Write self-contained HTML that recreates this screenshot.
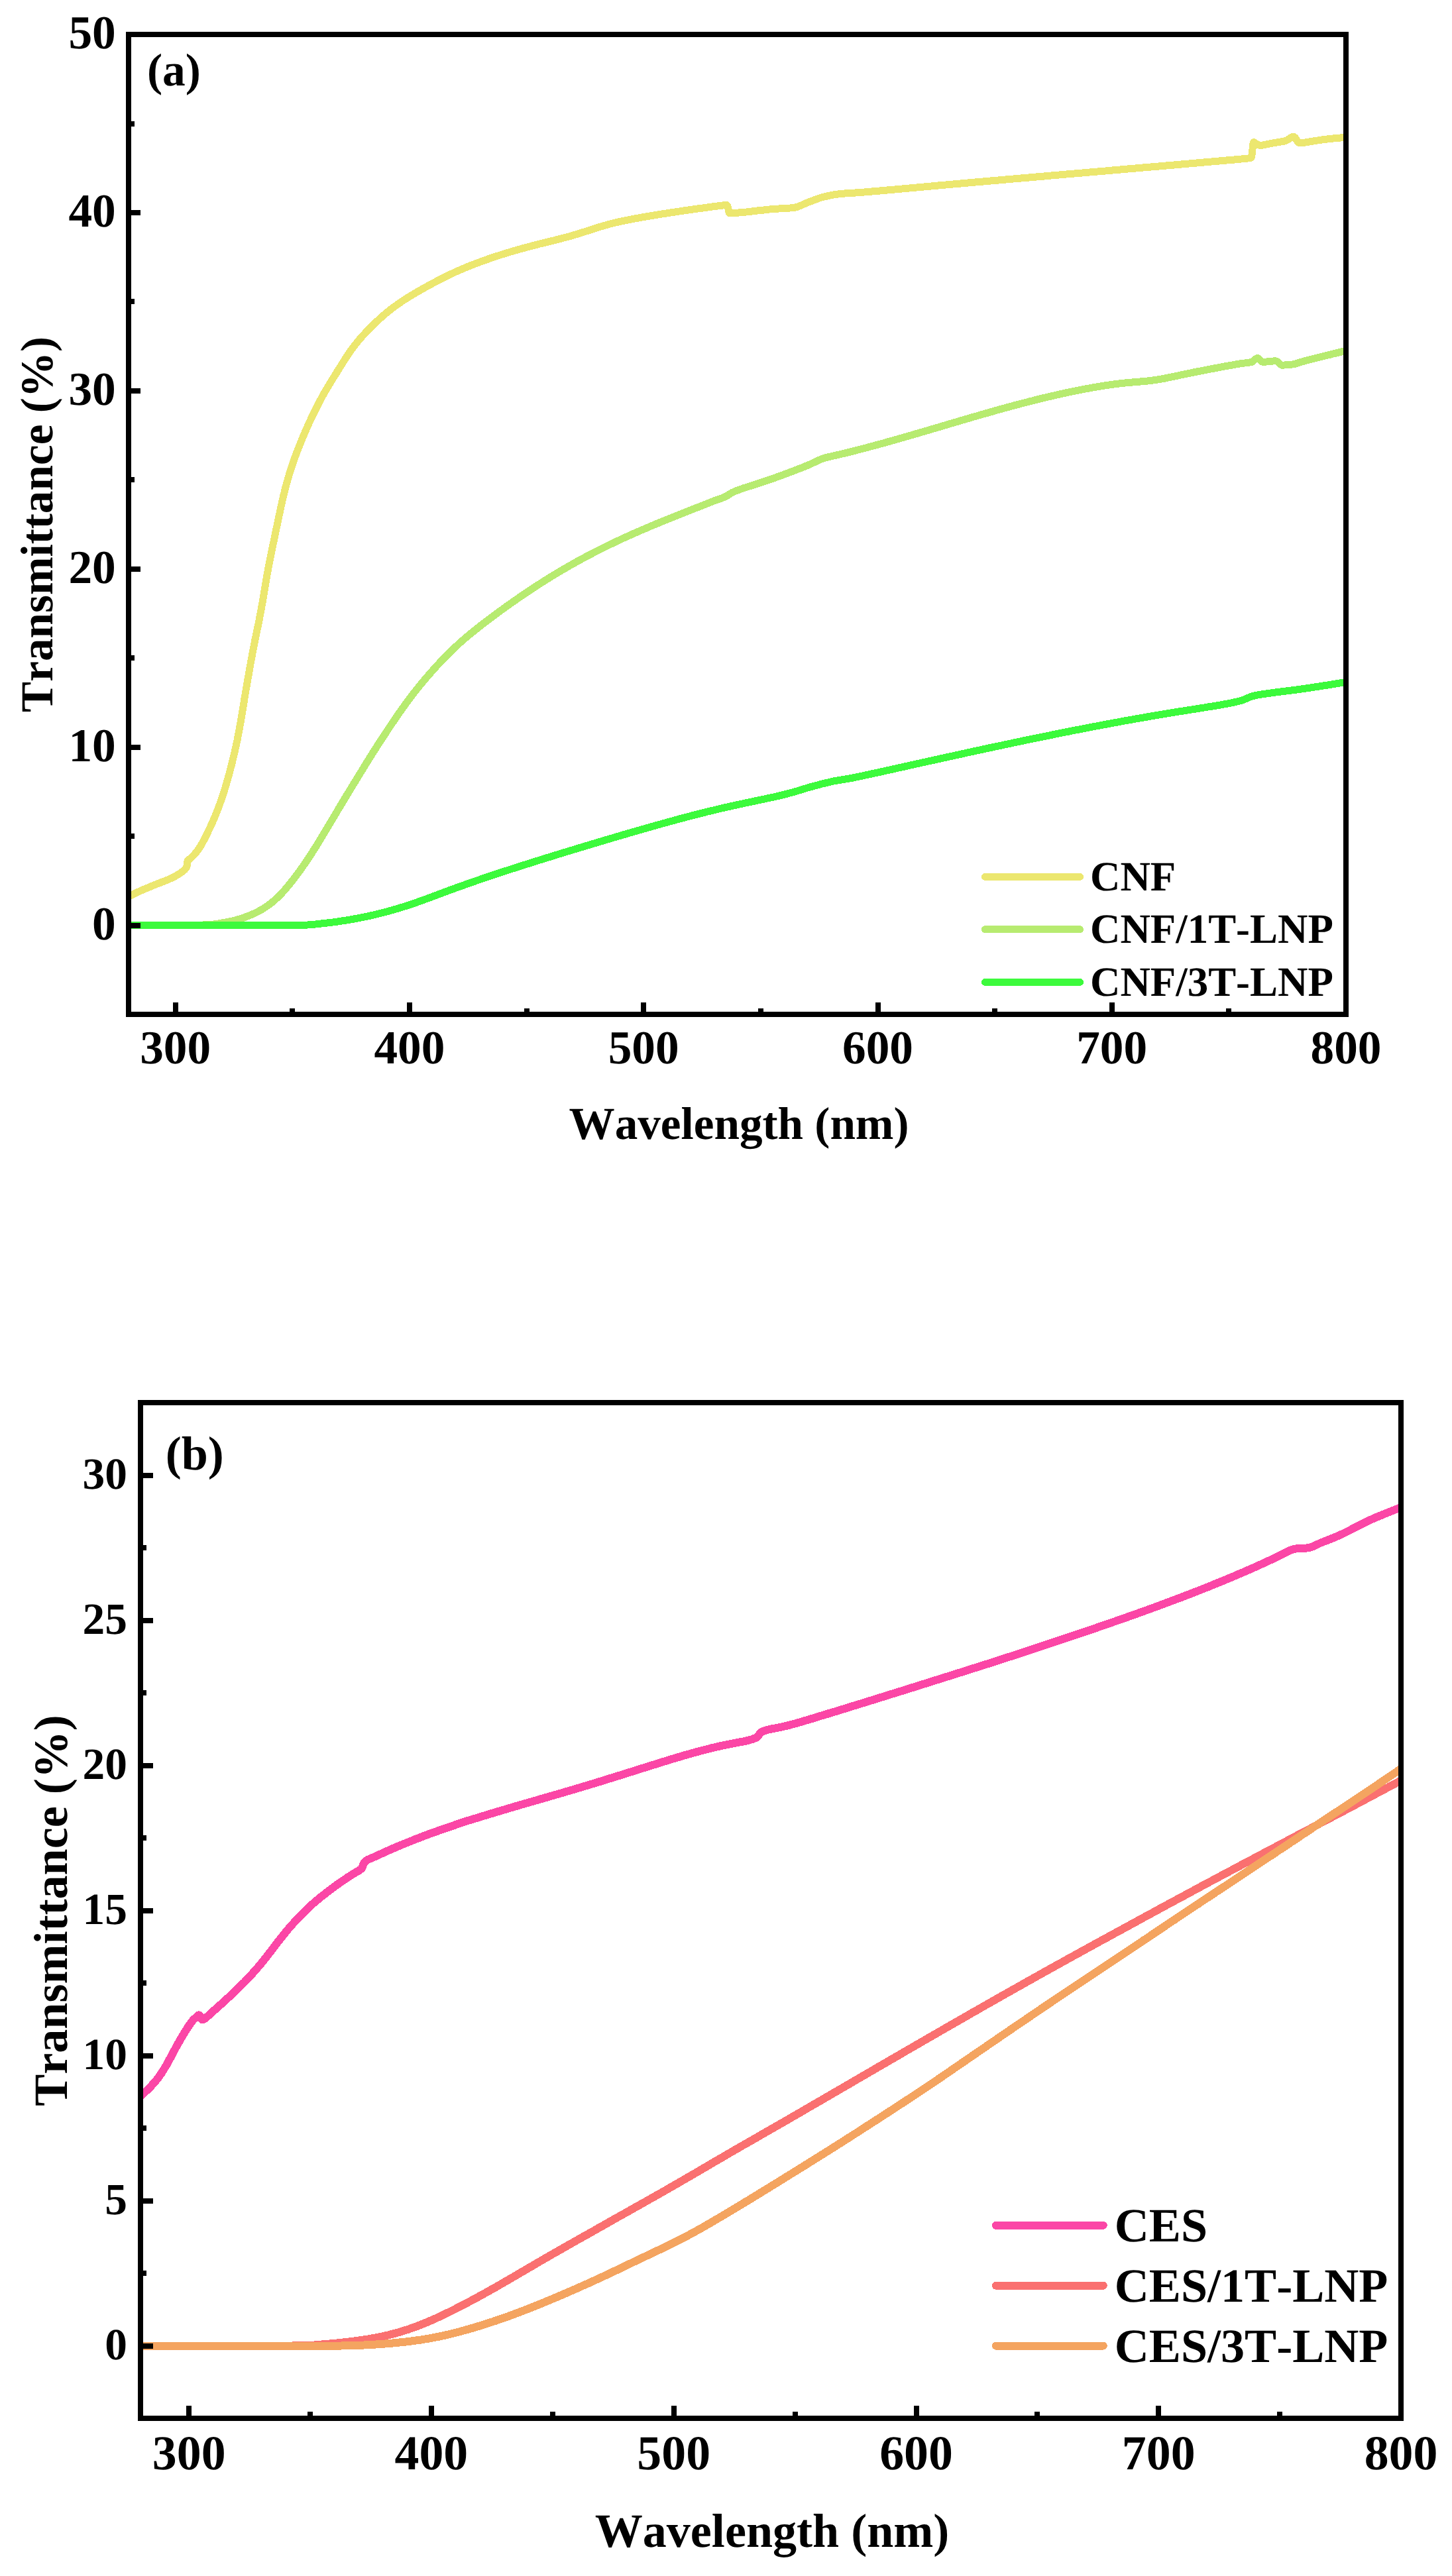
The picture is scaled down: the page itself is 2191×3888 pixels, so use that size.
<!DOCTYPE html>
<html lang="en"><head><meta charset="utf-8"><title>Transmittance spectra</title>
<style>
html,body{margin:0;padding:0;background:#fff}
body{width:2191px;height:3888px;overflow:hidden}
svg{display:block}
text{font-family:"Liberation Serif", serif;font-weight:bold;fill:#000;font-kerning:none;text-rendering:geometricPrecision}
</style></head><body>
<svg width="2191" height="3888" viewBox="0 0 2191 3888">
<rect width="2191" height="3888" fill="#fff"/>
<clipPath id="clipa"><rect x="194" y="52" width="1837" height="1479"/></clipPath>
<g clip-path="url(#clipa)" fill="none" stroke-width="11" stroke-linejoin="round" stroke-linecap="butt" shape-rendering="crispEdges">
<path d="M193.7,1353.1 L195.6,1352.3 L197.5,1351.4 L199.4,1350.5 L201.4,1349.6 L203.3,1348.6 L205.2,1347.7 L207.1,1346.8 L209.0,1345.9 L210.9,1345.0 L212.7,1344.2 L214.5,1343.4 L216.3,1342.6 L218.1,1341.9 L219.8,1341.1 L221.6,1340.5 L223.3,1339.8 L225.0,1339.1 L226.7,1338.4 L228.3,1337.7 L230.0,1337.0 L231.7,1336.3 L233.4,1335.6 L235.1,1334.9 L236.9,1334.2 L238.7,1333.5 L240.5,1332.8 L242.3,1332.1 L244.2,1331.3 L246.1,1330.6 L248.1,1329.9 L250.0,1329.1 L252.0,1328.3 L254.0,1327.5 L256.0,1326.6 L257.9,1325.8 L259.8,1324.9 L261.7,1323.9 L263.4,1323.0 L265.2,1322.0 L267.0,1321.0 L268.7,1320.0 L270.4,1318.9 L272.0,1317.8 L273.6,1316.7 L275.3,1315.5 L276.9,1314.2 L278.4,1312.9 L279.7,1311.4 L280.8,1309.8 L281.8,1308.0 L282.4,1306.1 L282.6,1304.0 L282.7,1301.9 L282.9,1300.1 L283.6,1298.5 L285.1,1297.2 L286.9,1295.9 L288.6,1294.6 L290.0,1293.1 L291.4,1291.7 L292.8,1290.2 L294.1,1288.7 L295.5,1287.0 L296.8,1285.4 L298.2,1283.7 L299.4,1281.9 L300.6,1280.2 L301.8,1278.4 L302.9,1276.7 L303.9,1274.9 L304.9,1273.1 L305.9,1271.4 L306.8,1269.6 L307.7,1267.9 L308.6,1266.2 L309.5,1264.4 L310.3,1262.7 L311.2,1261.0 L312.0,1259.3 L312.9,1257.6 L313.7,1255.8 L314.5,1254.1 L315.4,1252.4 L316.2,1250.6 L317.0,1248.8 L317.9,1247.1 L318.7,1245.3 L319.5,1243.5 L320.3,1241.7 L321.1,1239.9 L321.9,1238.1 L322.7,1236.3 L323.5,1234.4 L324.2,1232.6 L325.0,1230.8 L325.8,1228.9 L326.5,1227.1 L327.2,1225.2 L328.0,1223.3 L328.7,1221.5 L329.4,1219.6 L330.1,1217.7 L330.8,1215.9 L331.5,1214.0 L332.1,1212.1 L332.8,1210.2 L333.5,1208.3 L334.1,1206.5 L334.8,1204.6 L335.4,1202.7 L336.0,1200.8 L336.7,1198.9 L337.3,1197.0 L337.9,1195.1 L338.5,1193.2 L339.1,1191.3 L339.7,1189.4 L340.3,1187.4 L340.8,1185.5 L341.4,1183.6 L342.0,1181.7 L342.5,1179.8 L343.1,1177.9 L343.6,1175.9 L344.2,1174.0 L344.7,1172.1 L345.2,1170.1 L345.8,1168.2 L346.3,1166.3 L346.8,1164.4 L347.3,1162.4 L347.8,1160.5 L348.3,1158.6 L348.8,1156.6 L349.3,1154.7 L349.8,1152.7 L350.3,1150.8 L350.8,1148.9 L351.2,1146.9 L351.7,1145.0 L352.2,1143.0 L352.6,1141.1 L353.1,1139.1 L353.6,1137.2 L354.0,1135.2 L354.5,1133.3 L354.9,1131.3 L355.3,1129.4 L355.8,1127.4 L356.2,1125.5 L356.6,1123.5 L357.0,1121.6 L357.4,1119.6 L357.9,1117.7 L358.3,1115.7 L358.6,1113.7 L359.0,1111.8 L359.4,1109.8 L359.8,1107.9 L360.2,1105.9 L360.6,1103.9 L360.9,1102.0 L361.3,1100.0 L361.6,1098.0 L362.0,1096.1 L362.3,1094.1 L362.7,1092.1 L363.0,1090.2 L363.4,1088.2 L363.7,1086.2 L364.0,1084.2 L364.4,1082.3 L364.7,1080.3 L365.0,1078.3 L365.4,1076.4 L365.7,1074.4 L366.0,1072.4 L366.3,1070.4 L366.6,1068.5 L367.0,1066.5 L367.3,1064.5 L367.6,1062.5 L367.9,1060.6 L368.3,1058.6 L368.6,1056.6 L368.9,1054.6 L369.2,1052.7 L369.6,1050.7 L369.9,1048.7 L370.2,1046.8 L370.6,1044.8 L370.9,1042.8 L371.2,1040.8 L371.6,1038.9 L371.9,1036.9 L372.2,1034.9 L372.6,1032.9 L372.9,1031.0 L373.3,1029.0 L373.6,1027.0 L373.9,1025.1 L374.3,1023.1 L374.6,1021.1 L375.0,1019.2 L375.3,1017.2 L375.7,1015.2 L376.0,1013.2 L376.4,1011.3 L376.7,1009.3 L377.1,1007.3 L377.4,1005.4 L377.8,1003.4 L378.1,1001.4 L378.5,999.5 L378.8,997.5 L379.2,995.5 L379.6,993.6 L379.9,991.6 L380.3,989.6 L380.7,987.7 L381.0,985.7 L381.4,983.7 L381.8,981.8 L382.1,979.8 L382.5,977.8 L382.9,975.9 L383.3,973.9 L383.7,972.0 L384.1,970.0 L384.4,968.0 L384.8,966.1 L385.2,964.1 L385.6,962.1 L386.0,960.2 L386.4,958.2 L386.8,956.3 L387.2,954.3 L387.6,952.4 L388.0,950.4 L388.5,948.4 L388.9,946.5 L389.3,944.5 L389.7,942.6 L390.1,940.6 L390.5,938.6 L390.9,936.7 L391.3,934.7 L391.6,932.8 L392.0,930.8 L392.4,928.8 L392.8,926.9 L393.2,924.9 L393.5,923.0 L393.9,921.0 L394.3,919.0 L394.6,917.1 L395.0,915.1 L395.3,913.1 L395.7,911.2 L396.0,909.2 L396.4,907.2 L396.7,905.2 L397.0,903.3 L397.4,901.3 L397.7,899.3 L398.0,897.4 L398.4,895.4 L398.7,893.4 L399.0,891.4 L399.3,889.5 L399.7,887.5 L400.0,885.5 L400.3,883.6 L400.7,881.6 L401.0,879.6 L401.3,877.6 L401.7,875.7 L402.0,873.7 L402.3,871.7 L402.7,869.8 L403.0,867.8 L403.4,865.8 L403.7,863.9 L404.1,861.9 L404.5,859.9 L404.8,858.0 L405.2,856.0 L405.6,854.0 L405.9,852.1 L406.3,850.1 L406.7,848.1 L407.1,846.2 L407.5,844.2 L407.9,842.2 L408.3,840.3 L408.6,838.3 L409.0,836.4 L409.4,834.4 L409.8,832.4 L410.2,830.5 L410.6,828.5 L411.0,826.6 L411.4,824.6 L411.8,822.6 L412.2,820.7 L412.7,818.7 L413.1,816.8 L413.5,814.8 L413.9,812.9 L414.3,810.9 L414.7,808.9 L415.1,807.0 L415.5,805.0 L415.9,803.1 L416.3,801.1 L416.7,799.1 L417.1,797.2 L417.6,795.2 L418.0,793.3 L418.4,791.3 L418.8,789.4 L419.2,787.4 L419.6,785.4 L420.0,783.5 L420.4,781.5 L420.8,779.6 L421.3,777.6 L421.7,775.7 L422.1,773.7 L422.5,771.7 L422.9,769.8 L423.4,767.8 L423.8,765.9 L424.2,763.9 L424.6,762.0 L425.1,760.0 L425.5,758.1 L425.9,756.1 L426.4,754.2 L426.8,752.2 L427.3,750.3 L427.7,748.3 L428.2,746.4 L428.7,744.4 L429.2,742.5 L429.6,740.6 L430.1,738.6 L430.6,736.7 L431.1,734.8 L431.6,732.8 L432.2,730.9 L432.7,729.0 L433.2,727.1 L433.8,725.1 L434.3,723.2 L434.9,721.3 L435.4,719.4 L436.0,717.5 L436.6,715.6 L437.2,713.6 L437.8,711.7 L438.4,709.8 L439.0,707.9 L439.6,706.0 L440.2,704.1 L440.9,702.2 L441.5,700.3 L442.2,698.5 L442.8,696.6 L443.5,694.7 L444.2,692.8 L444.8,690.9 L445.5,689.0 L446.2,687.2 L446.9,685.3 L447.6,683.4 L448.3,681.5 L449.0,679.7 L449.7,677.8 L450.5,675.9 L451.2,674.1 L451.9,672.2 L452.7,670.4 L453.4,668.5 L454.2,666.7 L454.9,664.8 L455.7,663.0 L456.5,661.1 L457.2,659.3 L458.0,657.4 L458.8,655.6 L459.6,653.8 L460.4,651.9 L461.2,650.1 L462.0,648.3 L462.8,646.4 L463.6,644.6 L464.4,642.8 L465.2,641.0 L466.1,639.1 L466.9,637.3 L467.8,635.5 L468.6,633.7 L469.4,631.9 L470.3,630.1 L471.2,628.3 L472.0,626.5 L472.9,624.7 L473.8,622.9 L474.7,621.1 L475.5,619.3 L476.4,617.5 L477.3,615.7 L478.2,613.9 L479.1,612.1 L480.1,610.4 L481.0,608.6 L481.9,606.8 L482.8,605.0 L483.8,603.3 L484.7,601.5 L485.7,599.8 L486.6,598.0 L487.6,596.3 L488.6,594.5 L489.5,592.8 L490.5,591.1 L491.5,589.3 L492.5,587.6 L493.5,585.9 L494.5,584.2 L495.6,582.5 L496.6,580.8 L497.6,579.1 L498.6,577.4 L499.7,575.7 L500.7,574.0 L501.8,572.3 L502.8,570.6 L503.9,568.9 L504.9,567.3 L506.0,565.6 L507.0,563.9 L508.1,562.2 L509.1,560.5 L510.2,558.9 L511.2,557.2 L512.3,555.5 L513.3,553.8 L514.4,552.2 L515.4,550.5 L516.5,548.8 L517.5,547.1 L518.6,545.4 L519.6,543.8 L520.7,542.1 L521.8,540.4 L522.9,538.8 L523.9,537.1 L525.0,535.5 L526.2,533.8 L527.3,532.2 L528.4,530.6 L529.5,528.9 L530.7,527.3 L531.9,525.7 L533.1,524.1 L534.2,522.5 L535.5,521.0 L536.7,519.4 L537.9,517.8 L539.2,516.3 L540.4,514.8 L541.7,513.2 L543.0,511.7 L544.3,510.2 L545.6,508.7 L546.9,507.2 L548.3,505.7 L549.6,504.3 L551.0,502.8 L552.3,501.3 L553.7,499.9 L555.1,498.4 L556.5,497.0 L557.9,495.6 L559.3,494.2 L560.7,492.8 L562.1,491.4 L563.5,490.0 L565.0,488.6 L566.4,487.2 L567.8,485.8 L569.3,484.5 L570.8,483.1 L572.2,481.7 L573.7,480.4 L575.2,479.1 L576.7,477.8 L578.2,476.4 L579.7,475.1 L581.2,473.9 L582.8,472.6 L584.3,471.3 L585.8,470.0 L587.4,468.8 L589.0,467.6 L590.5,466.3 L592.1,465.1 L593.7,463.9 L595.3,462.7 L596.9,461.6 L598.5,460.4 L600.1,459.2 L601.8,458.1 L603.4,457.0 L605.1,455.8 L606.7,454.7 L608.4,453.6 L610.1,452.5 L611.7,451.4 L613.4,450.4 L615.1,449.3 L616.8,448.3 L618.5,447.2 L620.2,446.2 L621.9,445.1 L623.6,444.1 L625.3,443.1 L627.1,442.1 L628.8,441.1 L630.5,440.1 L632.2,439.1 L634.0,438.1 L635.7,437.1 L637.4,436.1 L639.2,435.1 L640.9,434.1 L642.7,433.2 L644.4,432.2 L646.2,431.2 L647.9,430.3 L649.7,429.3 L651.5,428.4 L653.2,427.4 L655.0,426.5 L656.7,425.6 L658.5,424.6 L660.3,423.7 L662.1,422.8 L663.8,421.9 L665.6,421.0 L667.4,420.0 L669.2,419.1 L671.0,418.2 L672.7,417.4 L674.5,416.5 L676.3,415.6 L678.1,414.7 L679.9,413.9 L681.7,413.0 L683.5,412.2 L685.4,411.3 L687.2,410.5 L689.0,409.7 L690.8,408.9 L692.6,408.1 L694.5,407.3 L696.3,406.5 L698.1,405.7 L700.0,404.9 L701.8,404.1 L703.7,403.4 L705.5,402.6 L707.4,401.9 L709.2,401.1 L711.1,400.4 L712.9,399.7 L714.8,399.0 L716.7,398.2 L718.5,397.5 L720.4,396.8 L722.3,396.1 L724.2,395.4 L726.0,394.8 L727.9,394.1 L729.8,393.4 L731.7,392.7 L733.6,392.1 L735.5,391.4 L737.3,390.7 L739.2,390.1 L741.1,389.4 L743.0,388.8 L744.9,388.2 L746.8,387.5 L748.7,386.9 L750.6,386.3 L752.5,385.7 L754.4,385.0 L756.3,384.4 L758.2,383.8 L760.1,383.2 L762.0,382.6 L763.9,382.1 L765.9,381.5 L767.8,380.9 L769.7,380.3 L771.6,379.7 L773.5,379.2 L775.4,378.6 L777.4,378.1 L779.3,377.5 L781.2,377.0 L783.1,376.4 L785.0,375.9 L787.0,375.3 L788.9,374.8 L790.8,374.3 L792.8,373.8 L794.7,373.2 L796.6,372.7 L798.5,372.2 L800.5,371.7 L802.4,371.2 L804.3,370.7 L806.3,370.2 L808.2,369.7 L810.2,369.2 L812.1,368.7 L814.0,368.2 L816.0,367.8 L817.9,367.3 L819.8,366.8 L821.8,366.3 L823.7,365.8 L825.7,365.4 L827.6,364.9 L829.5,364.4 L831.5,363.9 L833.4,363.5 L835.4,363.0 L837.3,362.5 L839.2,362.0 L841.2,361.5 L843.1,361.0 L845.0,360.5 L847.0,360.0 L848.9,359.5 L850.8,359.0 L852.8,358.5 L854.7,358.0 L856.6,357.4 L858.6,356.9 L860.5,356.4 L862.4,355.8 L864.3,355.3 L866.2,354.7 L868.1,354.1 L870.1,353.6 L872.0,353.0 L873.9,352.4 L875.8,351.8 L877.7,351.2 L879.6,350.6 L881.5,350.0 L883.4,349.4 L885.3,348.8 L887.2,348.2 L889.1,347.6 L891.0,347.0 L892.9,346.4 L894.8,345.7 L896.7,345.1 L898.6,344.5 L900.5,343.9 L902.4,343.3 L904.3,342.7 L906.2,342.1 L908.1,341.6 L910.0,341.0 L911.9,340.4 L913.9,339.9 L915.8,339.4 L917.7,338.8 L919.6,338.3 L921.5,337.8 L923.5,337.3 L925.4,336.8 L927.3,336.3 L929.3,335.9 L931.2,335.4 L933.2,335.0 L935.1,334.5 L937.1,334.1 L939.0,333.7 L941.0,333.3 L942.9,332.9 L944.9,332.5 L946.8,332.1 L948.8,331.7 L950.8,331.3 L952.7,330.9 L954.7,330.6 L956.6,330.2 L958.6,329.8 L960.6,329.5 L962.5,329.1 L964.5,328.8 L966.5,328.4 L968.5,328.1 L970.4,327.7 L972.4,327.4 L974.4,327.0 L976.3,326.7 L978.3,326.4 L980.3,326.0 L982.2,325.7 L984.2,325.4 L986.2,325.1 L988.2,324.7 L990.1,324.4 L992.1,324.1 L994.1,323.8 L996.1,323.4 L998.0,323.1 L1000.0,322.8 L1002.0,322.5 L1004.0,322.2 L1005.9,321.9 L1007.9,321.6 L1009.9,321.3 L1011.9,321.0 L1013.8,320.7 L1015.8,320.4 L1017.8,320.1 L1019.8,319.8 L1021.7,319.5 L1023.7,319.2 L1025.7,318.9 L1027.6,318.6 L1029.6,318.3 L1031.5,318.0 L1033.5,317.8 L1035.4,317.5 L1037.4,317.2 L1039.3,316.9 L1041.2,316.7 L1043.1,316.4 L1045.0,316.1 L1046.9,315.8 L1048.8,315.6 L1050.7,315.3 L1052.6,315.0 L1054.6,314.8 L1056.5,314.5 L1058.4,314.2 L1060.4,314.0 L1062.4,313.7 L1064.4,313.4 L1066.4,313.1 L1068.5,312.9 L1070.5,312.6 L1072.7,312.3 L1074.8,312.0 L1076.9,311.7 L1079.1,311.5 L1081.2,311.2 L1083.5,310.9 L1085.8,310.6 L1088.1,310.3 L1090.3,310.0 L1092.4,309.8 L1094.2,309.6 L1095.7,309.5 L1096.8,309.5 L1097.7,310.8 L1098.4,313.1 L1099.0,315.4 L1099.6,317.7 L1100.0,320.2 L1100.5,321.7 L1101.4,321.8 L1102.7,321.8 L1104.3,321.7 L1106.3,321.6 L1108.5,321.4 L1110.8,321.3 L1113.3,321.1 L1115.8,320.9 L1118.2,320.7 L1120.5,320.6 L1122.6,320.4 L1124.7,320.2 L1126.8,319.9 L1128.9,319.7 L1130.9,319.4 L1132.9,319.2 L1134.8,318.9 L1136.8,318.7 L1138.7,318.5 L1140.6,318.2 L1142.5,318.0 L1144.4,317.8 L1146.2,317.6 L1148.1,317.4 L1149.9,317.2 L1151.7,317.1 L1153.6,316.9 L1155.4,316.7 L1157.3,316.4 L1159.1,316.2 L1161.0,316.0 L1162.9,315.8 L1164.9,315.7 L1166.8,315.5 L1168.8,315.4 L1170.9,315.2 L1172.9,315.1 L1175.0,315.0 L1177.1,314.9 L1179.3,314.7 L1181.4,314.6 L1183.6,314.5 L1185.8,314.4 L1187.9,314.3 L1189.9,314.2 L1191.9,314.0 L1193.8,313.9 L1195.8,313.7 L1197.7,313.5 L1199.6,313.1 L1201.5,312.7 L1203.4,312.1 L1205.3,311.4 L1207.2,310.7 L1209.0,309.9 L1210.9,309.1 L1212.8,308.2 L1214.6,307.4 L1216.5,306.6 L1218.4,305.8 L1220.2,305.1 L1222.1,304.4 L1224.0,303.7 L1225.9,303.0 L1227.7,302.2 L1229.6,301.5 L1231.5,300.8 L1233.3,300.1 L1235.2,299.4 L1237.1,298.8 L1239.0,298.2 L1240.9,297.7 L1242.9,297.2 L1244.8,296.7 L1246.8,296.3 L1248.7,295.8 L1250.7,295.4 L1252.6,294.9 L1254.6,294.5 L1256.6,294.2 L1258.6,293.8 L1260.5,293.5 L1262.5,293.2 L1264.5,293.0 L1266.5,292.8 L1268.4,292.6 L1270.4,292.4 L1272.5,292.2 L1274.6,292.0 L1276.7,291.9 L1278.8,291.7 L1281.0,291.6 L1283.1,291.5 L1285.2,291.3 L1287.3,291.2 L1289.4,291.1 L1291.4,290.9 L1293.4,290.8 L1295.4,290.7 L1297.3,290.5 L1299.3,290.4 L1301.2,290.2 L1303.1,290.1 L1305.0,289.9 L1306.9,289.8 L1308.9,289.6 L1310.8,289.4 L1312.7,289.3 L1314.6,289.1 L1316.6,288.9 L1318.5,288.8 L1320.5,288.6 L1322.4,288.4 L1324.4,288.3 L1326.4,288.1 L1328.3,287.9 L1330.3,287.7 L1332.3,287.6 L1334.3,287.4 L1336.3,287.2 L1338.3,287.0 L1340.2,286.9 L1342.2,286.7 L1344.2,286.5 L1346.2,286.3 L1348.2,286.1 L1350.2,286.0 L1352.2,285.8 L1354.2,285.6 L1356.2,285.4 L1358.2,285.2 L1360.2,285.1 L1362.1,284.9 L1364.1,284.7 L1366.1,284.5 L1368.1,284.3 L1370.1,284.1 L1372.1,284.0 L1374.1,283.8 L1376.1,283.6 L1378.1,283.4 L1380.1,283.2 L1382.1,283.1 L1384.1,282.9 L1386.0,282.7 L1388.0,282.5 L1390.0,282.3 L1392.0,282.2 L1394.0,282.0 L1396.0,281.8 L1398.0,281.6 L1400.0,281.4 L1402.0,281.3 L1404.0,281.1 L1406.0,280.9 L1408.0,280.7 L1409.9,280.5 L1411.9,280.4 L1413.9,280.2 L1415.9,280.0 L1417.9,279.8 L1419.9,279.6 L1421.9,279.5 L1423.9,279.3 L1425.9,279.1 L1427.9,278.9 L1429.9,278.8 L1431.9,278.6 L1433.9,278.4 L1435.8,278.2 L1437.8,278.0 L1439.8,277.9 L1441.8,277.7 L1443.8,277.5 L1445.8,277.3 L1447.8,277.2 L1449.8,277.0 L1451.8,276.8 L1453.8,276.6 L1455.8,276.5 L1457.8,276.3 L1459.8,276.1 L1461.7,275.9 L1463.7,275.7 L1465.7,275.6 L1467.7,275.4 L1469.7,275.2 L1471.7,275.0 L1473.7,274.9 L1475.7,274.7 L1477.7,274.5 L1479.7,274.3 L1481.7,274.2 L1483.7,274.0 L1485.6,273.8 L1487.6,273.6 L1489.6,273.5 L1491.6,273.3 L1493.6,273.1 L1495.6,272.9 L1497.6,272.8 L1499.6,272.6 L1501.6,272.4 L1503.6,272.2 L1505.6,272.1 L1507.6,271.9 L1509.6,271.7 L1511.5,271.5 L1513.5,271.4 L1515.5,271.2 L1517.5,271.0 L1519.5,270.8 L1521.5,270.7 L1523.5,270.5 L1525.5,270.3 L1527.5,270.1 L1529.5,270.0 L1531.5,269.8 L1533.5,269.6 L1535.5,269.4 L1537.5,269.3 L1539.4,269.1 L1541.4,268.9 L1543.4,268.8 L1545.4,268.6 L1547.4,268.4 L1549.4,268.2 L1551.4,268.1 L1553.4,267.9 L1555.4,267.7 L1557.4,267.5 L1559.4,267.4 L1561.4,267.2 L1563.4,267.0 L1565.3,266.8 L1567.3,266.7 L1569.3,266.5 L1571.3,266.3 L1573.3,266.2 L1575.3,266.0 L1577.3,265.8 L1579.3,265.6 L1581.3,265.5 L1583.3,265.3 L1585.3,265.1 L1587.3,264.9 L1589.3,264.8 L1591.2,264.6 L1593.2,264.4 L1595.2,264.3 L1597.2,264.1 L1599.2,263.9 L1601.2,263.7 L1603.2,263.6 L1605.2,263.4 L1607.2,263.2 L1609.2,263.0 L1611.2,262.9 L1613.2,262.7 L1615.2,262.5 L1617.2,262.4 L1619.1,262.2 L1621.1,262.0 L1623.1,261.8 L1625.1,261.7 L1627.1,261.5 L1629.1,261.3 L1631.1,261.2 L1633.1,261.0 L1635.1,260.8 L1637.1,260.6 L1639.1,260.5 L1641.1,260.3 L1643.1,260.1 L1645.0,259.9 L1647.0,259.8 L1649.0,259.6 L1651.0,259.4 L1653.0,259.3 L1655.0,259.1 L1657.0,258.9 L1659.0,258.7 L1661.0,258.6 L1663.0,258.4 L1665.0,258.2 L1667.0,258.1 L1669.0,257.9 L1671.0,257.7 L1672.9,257.5 L1674.9,257.4 L1676.9,257.2 L1678.9,257.0 L1680.9,256.8 L1682.9,256.7 L1684.9,256.5 L1686.9,256.3 L1688.9,256.2 L1690.9,256.0 L1692.9,255.8 L1694.9,255.6 L1696.9,255.5 L1698.8,255.3 L1700.8,255.1 L1702.8,254.9 L1704.8,254.8 L1706.8,254.6 L1708.8,254.4 L1710.8,254.3 L1712.8,254.1 L1714.8,253.9 L1716.8,253.7 L1718.8,253.6 L1720.8,253.4 L1722.8,253.2 L1724.7,253.0 L1726.7,252.9 L1728.7,252.7 L1730.7,252.5 L1732.7,252.4 L1734.7,252.2 L1736.7,252.0 L1738.7,251.8 L1740.7,251.7 L1742.7,251.5 L1744.7,251.3 L1746.7,251.1 L1748.7,251.0 L1750.7,250.8 L1752.6,250.6 L1754.6,250.4 L1756.6,250.3 L1758.6,250.1 L1760.6,249.9 L1762.6,249.8 L1764.6,249.6 L1766.6,249.4 L1768.6,249.2 L1770.6,249.1 L1772.6,248.9 L1774.6,248.7 L1776.6,248.5 L1778.5,248.4 L1780.5,248.2 L1782.5,248.0 L1784.5,247.8 L1786.5,247.7 L1788.5,247.5 L1790.5,247.3 L1792.5,247.1 L1794.5,247.0 L1796.5,246.8 L1798.5,246.6 L1800.5,246.4 L1802.5,246.3 L1804.4,246.1 L1806.4,245.9 L1808.4,245.7 L1810.4,245.6 L1812.4,245.4 L1814.4,245.2 L1816.4,245.0 L1818.4,244.9 L1820.3,244.7 L1822.3,244.5 L1824.3,244.3 L1826.3,244.2 L1828.2,244.0 L1830.2,243.8 L1832.1,243.6 L1834.1,243.5 L1836.0,243.3 L1837.9,243.1 L1839.9,243.0 L1841.8,242.8 L1843.7,242.6 L1845.6,242.5 L1847.5,242.3 L1849.5,242.1 L1851.4,241.9 L1853.4,241.8 L1855.3,241.6 L1857.3,241.4 L1859.3,241.3 L1861.4,241.1 L1863.4,240.9 L1865.5,240.7 L1867.6,240.5 L1869.8,240.3 L1871.9,240.1 L1874.2,239.9 L1876.7,239.7 L1879.2,239.4 L1881.6,239.2 L1883.8,238.9 L1885.7,238.6 L1887.1,238.2 L1888.0,237.7 L1888.5,236.7 L1888.8,235.0 L1889.1,232.9 L1889.4,230.4 L1889.6,228.0 L1889.9,225.8 L1890.2,223.6 L1890.5,221.0 L1890.7,218.5 L1891.1,216.3 L1891.5,214.9 L1892.0,214.6 L1893.2,215.2 L1895.0,216.5 L1897.0,217.9 L1899.2,218.9 L1901.2,219.3 L1903.1,219.3 L1905.0,219.1 L1906.9,218.8 L1908.9,218.4 L1910.9,218.0 L1912.9,217.5 L1914.9,217.1 L1916.9,216.6 L1918.9,216.2 L1920.9,215.9 L1922.9,215.5 L1924.9,215.2 L1926.9,215.0 L1928.9,214.7 L1930.9,214.4 L1932.9,214.0 L1934.8,213.7 L1936.8,213.3 L1938.7,212.8 L1940.5,212.3 L1942.4,211.3 L1944.3,210.1 L1946.1,208.9 L1947.8,207.7 L1949.6,206.8 L1951.2,206.3 L1952.7,206.6 L1954.2,207.9 L1955.5,209.7 L1956.8,211.8 L1958.2,213.8 L1959.6,215.3 L1961.1,216.0 L1962.8,215.9 L1964.7,215.8 L1966.6,215.5 L1968.6,215.2 L1970.7,214.8 L1972.8,214.5 L1974.9,214.1 L1976.9,213.7 L1978.9,213.4 L1980.9,213.1 L1982.9,212.8 L1984.8,212.5 L1986.8,212.2 L1988.8,211.9 L1990.8,211.6 L1992.7,211.3 L1994.7,211.0 L1996.7,210.8 L1998.7,210.5 L2000.7,210.3 L2002.7,210.0 L2004.6,209.8 L2006.6,209.6 L2008.6,209.4 L2010.6,209.1 L2012.6,208.9 L2014.6,208.7 L2016.6,208.5 L2018.6,208.3 L2020.6,208.1 L2022.6,208.0 L2024.5,207.8 L2026.5,207.6 L2028.5,207.5 L2030.5,207.3 L2031.2,207.3" stroke="#ECE76F"/>
<path d="M194.1,1396.2 L196.1,1396.2 L198.1,1396.2 L200.1,1396.2 L202.1,1396.2 L204.1,1396.2 L206.1,1396.2 L208.1,1396.2 L210.1,1396.2 L212.1,1396.2 L214.1,1396.2 L216.1,1396.2 L218.1,1396.2 L220.1,1396.2 L222.1,1396.2 L224.1,1396.2 L226.1,1396.2 L228.1,1396.2 L230.1,1396.2 L232.1,1396.2 L234.1,1396.2 L236.1,1396.2 L238.1,1396.2 L240.1,1396.2 L242.1,1396.2 L244.1,1396.2 L246.1,1396.2 L248.1,1396.2 L250.1,1396.2 L252.1,1396.2 L254.1,1396.2 L256.1,1396.2 L258.1,1396.2 L260.1,1396.2 L262.1,1396.2 L264.1,1396.2 L266.1,1396.2 L268.1,1396.2 L270.1,1396.2 L272.1,1396.2 L274.1,1396.2 L276.1,1396.2 L278.1,1396.2 L280.1,1396.2 L282.1,1396.2 L284.1,1396.2 L286.1,1396.2 L288.1,1396.2 L290.1,1396.1 L292.1,1396.1 L294.1,1396.1 L296.1,1396.1 L298.1,1396.1 L300.1,1396.1 L302.2,1396.1 L304.3,1396.0 L306.5,1396.0 L308.6,1395.9 L310.8,1395.9 L312.9,1395.8 L314.9,1395.7 L317.0,1395.5 L318.9,1395.4 L320.9,1395.1 L322.9,1394.9 L324.8,1394.6 L326.7,1394.3 L328.6,1394.1 L330.5,1393.8 L332.4,1393.5 L334.3,1393.1 L336.2,1392.8 L338.1,1392.5 L340.0,1392.2 L341.9,1391.8 L343.8,1391.4 L345.7,1391.0 L347.7,1390.6 L349.6,1390.2 L351.5,1389.7 L353.4,1389.3 L355.4,1388.8 L357.3,1388.2 L359.2,1387.7 L361.1,1387.1 L363.0,1386.6 L364.9,1386.0 L366.8,1385.3 L368.7,1384.7 L370.5,1384.0 L372.4,1383.3 L374.2,1382.6 L376.1,1381.9 L377.9,1381.1 L379.8,1380.3 L381.6,1379.5 L383.4,1378.7 L385.2,1377.9 L387.0,1377.0 L388.7,1376.1 L390.5,1375.2 L392.2,1374.2 L393.9,1373.3 L395.6,1372.3 L397.3,1371.3 L399.0,1370.2 L400.7,1369.1 L402.3,1368.0 L403.9,1366.9 L405.5,1365.8 L407.1,1364.6 L408.7,1363.4 L410.2,1362.1 L411.8,1360.9 L413.3,1359.6 L414.8,1358.3 L416.2,1357.0 L417.7,1355.6 L419.1,1354.3 L420.5,1352.9 L421.9,1351.5 L423.3,1350.1 L424.7,1348.6 L426.1,1347.2 L427.4,1345.7 L428.7,1344.2 L430.1,1342.7 L431.4,1341.2 L432.7,1339.7 L433.9,1338.2 L435.2,1336.6 L436.5,1335.1 L437.7,1333.5 L439.0,1332.0 L440.2,1330.4 L441.5,1328.8 L442.7,1327.3 L443.9,1325.7 L445.1,1324.1 L446.3,1322.5 L447.5,1320.9 L448.7,1319.3 L449.9,1317.7 L451.1,1316.1 L452.3,1314.4 L453.4,1312.8 L454.6,1311.2 L455.8,1309.6 L456.9,1307.9 L458.0,1306.3 L459.2,1304.7 L460.3,1303.0 L461.4,1301.4 L462.6,1299.7 L463.7,1298.0 L464.8,1296.4 L465.9,1294.7 L467.0,1293.0 L468.1,1291.4 L469.2,1289.7 L470.3,1288.0 L471.3,1286.3 L472.4,1284.6 L473.5,1282.9 L474.5,1281.3 L475.6,1279.6 L476.7,1277.9 L477.7,1276.2 L478.8,1274.5 L479.8,1272.8 L480.9,1271.1 L481.9,1269.3 L482.9,1267.6 L484.0,1265.9 L485.0,1264.2 L486.0,1262.5 L487.1,1260.8 L488.1,1259.1 L489.1,1257.4 L490.2,1255.6 L491.2,1253.9 L492.2,1252.2 L493.2,1250.5 L494.3,1248.8 L495.3,1247.1 L496.3,1245.3 L497.3,1243.6 L498.4,1241.9 L499.4,1240.2 L500.4,1238.5 L501.4,1236.8 L502.5,1235.0 L503.5,1233.3 L504.5,1231.6 L505.5,1229.9 L506.5,1228.2 L507.6,1226.4 L508.6,1224.7 L509.6,1223.0 L510.6,1221.3 L511.7,1219.6 L512.7,1217.9 L513.7,1216.1 L514.7,1214.4 L515.8,1212.7 L516.8,1211.0 L517.8,1209.3 L518.9,1207.6 L519.9,1205.8 L520.9,1204.1 L522.0,1202.4 L523.0,1200.7 L524.0,1199.0 L525.1,1197.3 L526.1,1195.6 L527.1,1193.9 L528.2,1192.2 L529.2,1190.5 L530.3,1188.7 L531.3,1187.0 L532.4,1185.3 L533.4,1183.6 L534.4,1181.9 L535.5,1180.2 L536.5,1178.5 L537.6,1176.8 L538.6,1175.1 L539.7,1173.4 L540.7,1171.7 L541.8,1170.0 L542.8,1168.3 L543.8,1166.6 L544.9,1164.9 L545.9,1163.2 L547.0,1161.5 L548.0,1159.8 L549.1,1158.1 L550.1,1156.3 L551.2,1154.6 L552.2,1152.9 L553.3,1151.2 L554.3,1149.5 L555.4,1147.8 L556.4,1146.1 L557.5,1144.4 L558.6,1142.8 L559.6,1141.1 L560.7,1139.4 L561.7,1137.7 L562.8,1136.0 L563.9,1134.3 L565.0,1132.6 L566.0,1130.9 L567.1,1129.2 L568.2,1127.5 L569.3,1125.9 L570.3,1124.2 L571.4,1122.5 L572.5,1120.8 L573.6,1119.1 L574.7,1117.5 L575.8,1115.8 L576.9,1114.1 L578.0,1112.4 L579.1,1110.8 L580.2,1109.1 L581.3,1107.4 L582.4,1105.8 L583.5,1104.1 L584.6,1102.4 L585.7,1100.8 L586.8,1099.1 L587.9,1097.4 L589.0,1095.8 L590.1,1094.1 L591.2,1092.4 L592.4,1090.8 L593.5,1089.1 L594.6,1087.5 L595.7,1085.8 L596.9,1084.2 L598.0,1082.5 L599.1,1080.9 L600.2,1079.2 L601.4,1077.6 L602.5,1075.9 L603.7,1074.3 L604.8,1072.7 L606.0,1071.0 L607.1,1069.4 L608.3,1067.8 L609.5,1066.1 L610.6,1064.5 L611.8,1062.9 L613.0,1061.3 L614.2,1059.7 L615.3,1058.1 L616.5,1056.5 L617.7,1054.9 L618.9,1053.3 L620.1,1051.7 L621.3,1050.1 L622.6,1048.5 L623.8,1046.9 L625.0,1045.3 L626.2,1043.7 L627.5,1042.2 L628.7,1040.6 L630.0,1039.0 L631.2,1037.5 L632.5,1035.9 L633.7,1034.4 L635.0,1032.8 L636.3,1031.3 L637.5,1029.7 L638.8,1028.2 L640.1,1026.7 L641.4,1025.1 L642.7,1023.6 L644.0,1022.1 L645.3,1020.6 L646.6,1019.1 L647.9,1017.6 L649.2,1016.1 L650.5,1014.6 L651.9,1013.1 L653.2,1011.6 L654.5,1010.1 L655.9,1008.6 L657.2,1007.1 L658.6,1005.6 L659.9,1004.1 L661.3,1002.7 L662.6,1001.2 L664.0,999.7 L665.3,998.3 L666.7,996.8 L668.1,995.4 L669.5,993.9 L670.9,992.5 L672.3,991.1 L673.7,989.6 L675.1,988.2 L676.5,986.8 L677.9,985.4 L679.3,984.0 L680.7,982.6 L682.2,981.2 L683.6,979.8 L685.1,978.4 L686.5,977.1 L688.0,975.7 L689.4,974.4 L690.9,973.0 L692.4,971.7 L693.9,970.3 L695.4,969.0 L696.9,967.7 L698.4,966.4 L699.9,965.0 L701.4,963.7 L702.9,962.4 L704.4,961.2 L706.0,959.9 L707.5,958.6 L709.0,957.3 L710.6,956.0 L712.1,954.8 L713.7,953.5 L715.3,952.3 L716.8,951.0 L718.4,949.8 L719.9,948.5 L721.5,947.3 L723.1,946.1 L724.7,944.8 L726.2,943.6 L727.8,942.4 L729.4,941.2 L731.0,939.9 L732.6,938.7 L734.2,937.5 L735.8,936.3 L737.4,935.1 L739.0,933.9 L740.6,932.7 L742.2,931.5 L743.8,930.3 L745.4,929.1 L747.0,927.9 L748.6,926.7 L750.2,925.5 L751.8,924.3 L753.4,923.2 L755.0,922.0 L756.6,920.8 L758.3,919.6 L759.9,918.5 L761.5,917.3 L763.1,916.1 L764.7,914.9 L766.4,913.8 L768.0,912.6 L769.6,911.5 L771.3,910.3 L772.9,909.2 L774.5,908.0 L776.2,906.9 L777.8,905.7 L779.4,904.6 L781.1,903.4 L782.7,902.3 L784.4,901.2 L786.0,900.0 L787.7,898.9 L789.3,897.8 L791.0,896.6 L792.6,895.5 L794.3,894.4 L796.0,893.3 L797.6,892.2 L799.3,891.1 L801.0,890.0 L802.6,888.9 L804.3,887.8 L806.0,886.7 L807.6,885.6 L809.3,884.5 L811.0,883.4 L812.7,882.3 L814.4,881.2 L816.0,880.2 L817.7,879.1 L819.4,878.0 L821.1,876.9 L822.8,875.9 L824.5,874.8 L826.2,873.7 L827.9,872.7 L829.6,871.6 L831.3,870.6 L833.0,869.5 L834.7,868.5 L836.4,867.5 L838.1,866.4 L839.8,865.4 L841.5,864.4 L843.3,863.3 L845.0,862.3 L846.7,861.3 L848.4,860.3 L850.1,859.3 L851.9,858.3 L853.6,857.3 L855.3,856.3 L857.1,855.3 L858.8,854.3 L860.5,853.3 L862.3,852.3 L864.0,851.3 L865.8,850.3 L867.5,849.4 L869.3,848.4 L871.0,847.4 L872.8,846.5 L874.5,845.5 L876.3,844.5 L878.0,843.6 L879.8,842.6 L881.5,841.7 L883.3,840.7 L885.1,839.8 L886.8,838.9 L888.6,837.9 L890.4,837.0 L892.1,836.1 L893.9,835.2 L895.7,834.2 L897.5,833.3 L899.3,832.4 L901.0,831.5 L902.8,830.6 L904.6,829.7 L906.4,828.8 L908.2,827.9 L910.0,827.0 L911.8,826.1 L913.6,825.2 L915.3,824.3 L917.1,823.5 L918.9,822.6 L920.7,821.7 L922.5,820.9 L924.3,820.0 L926.1,819.1 L928.0,818.3 L929.8,817.4 L931.6,816.6 L933.4,815.7 L935.2,814.9 L937.0,814.0 L938.8,813.2 L940.6,812.3 L942.5,811.5 L944.3,810.7 L946.1,809.9 L947.9,809.0 L949.7,808.2 L951.6,807.4 L953.4,806.6 L955.2,805.8 L957.0,804.9 L958.9,804.1 L960.7,803.3 L962.5,802.5 L964.4,801.7 L966.2,800.9 L968.0,800.1 L969.9,799.3 L971.7,798.6 L973.6,797.8 L975.4,797.0 L977.2,796.2 L979.1,795.4 L980.9,794.6 L982.8,793.9 L984.6,793.1 L986.4,792.3 L988.3,791.6 L990.1,790.8 L992.0,790.0 L993.8,789.3 L995.7,788.5 L997.5,787.7 L999.4,787.0 L1001.2,786.2 L1003.1,785.5 L1004.9,784.7 L1006.8,784.0 L1008.6,783.2 L1010.5,782.5 L1012.4,781.7 L1014.2,781.0 L1016.1,780.2 L1017.9,779.5 L1019.8,778.7 L1021.6,778.0 L1023.5,777.3 L1025.4,776.5 L1027.2,775.8 L1029.1,775.0 L1030.9,774.3 L1032.8,773.6 L1034.6,772.8 L1036.5,772.1 L1038.4,771.4 L1040.2,770.6 L1042.1,769.9 L1043.9,769.2 L1045.7,768.4 L1047.6,767.7 L1049.4,767.0 L1051.2,766.3 L1053.1,765.6 L1054.9,764.9 L1056.7,764.2 L1058.5,763.5 L1060.3,762.8 L1062.0,762.1 L1063.8,761.4 L1065.6,760.7 L1067.4,759.9 L1069.2,759.2 L1071.1,758.5 L1072.9,757.7 L1074.8,757.0 L1076.8,756.2 L1078.8,755.5 L1080.8,754.8 L1082.8,754.1 L1084.9,753.4 L1086.9,752.7 L1088.8,752.0 L1090.7,751.3 L1092.5,750.5 L1094.3,749.7 L1096.1,748.8 L1097.8,747.8 L1099.5,746.7 L1101.2,745.6 L1102.9,744.5 L1104.6,743.6 L1106.4,742.7 L1108.2,741.9 L1110.1,741.1 L1112.1,740.3 L1114.1,739.6 L1116.2,738.8 L1118.2,738.1 L1120.2,737.4 L1122.2,736.7 L1124.1,736.1 L1126.0,735.5 L1127.9,734.9 L1129.7,734.3 L1131.6,733.7 L1133.4,733.1 L1135.3,732.5 L1137.1,732.0 L1138.9,731.4 L1140.7,730.8 L1142.6,730.2 L1144.4,729.6 L1146.3,728.9 L1148.1,728.3 L1150.0,727.7 L1151.9,727.1 L1153.8,726.5 L1155.6,725.8 L1157.5,725.2 L1159.4,724.5 L1161.3,723.9 L1163.2,723.2 L1165.1,722.6 L1167.0,721.9 L1168.8,721.3 L1170.7,720.6 L1172.6,719.9 L1174.5,719.3 L1176.4,718.6 L1178.2,717.9 L1180.1,717.2 L1181.9,716.6 L1183.8,715.9 L1185.6,715.2 L1187.5,714.5 L1189.3,713.8 L1191.1,713.1 L1192.9,712.4 L1194.7,711.8 L1196.5,711.1 L1198.3,710.4 L1200.1,709.7 L1201.9,709.0 L1203.7,708.3 L1205.5,707.6 L1207.4,706.9 L1209.3,706.1 L1211.2,705.4 L1213.1,704.6 L1215.0,703.8 L1217.0,703.0 L1219.0,702.2 L1221.0,701.4 L1222.9,700.5 L1224.8,699.6 L1226.6,698.8 L1228.4,697.9 L1230.3,697.0 L1232.1,696.2 L1233.9,695.3 L1235.7,694.5 L1237.5,693.7 L1239.4,692.9 L1241.2,692.2 L1243.1,691.6 L1245.0,691.0 L1246.9,690.5 L1248.9,690.0 L1250.8,689.5 L1252.8,689.1 L1254.7,688.7 L1256.7,688.2 L1258.6,687.8 L1260.6,687.3 L1262.5,686.9 L1264.5,686.4 L1266.6,685.9 L1268.7,685.4 L1270.8,684.9 L1272.9,684.5 L1274.9,684.0 L1276.9,683.5 L1278.9,683.0 L1280.9,682.5 L1282.8,682.1 L1284.7,681.6 L1286.6,681.1 L1288.4,680.6 L1290.3,680.2 L1292.2,679.7 L1294.0,679.2 L1295.9,678.7 L1297.8,678.2 L1299.6,677.7 L1301.5,677.3 L1303.4,676.8 L1305.3,676.3 L1307.2,675.8 L1309.2,675.3 L1311.1,674.7 L1313.0,674.2 L1314.9,673.7 L1316.9,673.2 L1318.8,672.7 L1320.7,672.2 L1322.6,671.6 L1324.6,671.1 L1326.5,670.6 L1328.4,670.1 L1330.3,669.5 L1332.3,669.0 L1334.2,668.5 L1336.1,667.9 L1338.1,667.4 L1340.0,666.8 L1341.9,666.3 L1343.8,665.8 L1345.8,665.2 L1347.7,664.7 L1349.6,664.1 L1351.5,663.6 L1353.4,663.0 L1355.4,662.5 L1357.3,661.9 L1359.2,661.4 L1361.1,660.8 L1363.1,660.3 L1365.0,659.7 L1366.9,659.2 L1368.8,658.6 L1370.8,658.1 L1372.7,657.5 L1374.6,657.0 L1376.5,656.4 L1378.4,655.8 L1380.4,655.3 L1382.3,654.7 L1384.2,654.2 L1386.1,653.6 L1388.0,653.0 L1390.0,652.5 L1391.9,651.9 L1393.8,651.4 L1395.7,650.8 L1397.6,650.2 L1399.5,649.7 L1401.5,649.1 L1403.4,648.5 L1405.3,648.0 L1407.2,647.4 L1409.1,646.8 L1411.1,646.3 L1413.0,645.7 L1414.9,645.1 L1416.8,644.6 L1418.7,644.0 L1420.6,643.4 L1422.6,642.9 L1424.5,642.3 L1426.4,641.7 L1428.3,641.2 L1430.2,640.6 L1432.2,640.0 L1434.1,639.5 L1436.0,638.9 L1437.9,638.3 L1439.8,637.8 L1441.7,637.2 L1443.7,636.6 L1445.6,636.1 L1447.5,635.5 L1449.4,634.9 L1451.3,634.4 L1453.3,633.8 L1455.2,633.3 L1457.1,632.7 L1459.0,632.1 L1460.9,631.6 L1462.9,631.0 L1464.8,630.5 L1466.7,629.9 L1468.6,629.3 L1470.5,628.8 L1472.5,628.2 L1474.4,627.7 L1476.3,627.1 L1478.2,626.6 L1480.1,626.0 L1482.1,625.5 L1484.0,624.9 L1485.9,624.4 L1487.8,623.8 L1489.8,623.3 L1491.7,622.7 L1493.6,622.2 L1495.5,621.6 L1497.5,621.1 L1499.4,620.5 L1501.3,620.0 L1503.2,619.4 L1505.2,618.9 L1507.1,618.4 L1509.0,617.8 L1510.9,617.3 L1512.9,616.8 L1514.8,616.2 L1516.7,615.7 L1518.6,615.2 L1520.6,614.6 L1522.5,614.1 L1524.4,613.6 L1526.4,613.1 L1528.3,612.5 L1530.2,612.0 L1532.2,611.5 L1534.1,611.0 L1536.0,610.5 L1538.0,610.0 L1539.9,609.5 L1541.8,609.0 L1543.8,608.4 L1545.7,607.9 L1547.6,607.4 L1549.6,606.9 L1551.5,606.4 L1553.4,605.9 L1555.4,605.4 L1557.3,605.0 L1559.3,604.5 L1561.2,604.0 L1563.1,603.5 L1565.1,603.0 L1567.0,602.5 L1569.0,602.0 L1570.9,601.6 L1572.8,601.1 L1574.8,600.6 L1576.7,600.2 L1578.7,599.7 L1580.6,599.2 L1582.6,598.8 L1584.5,598.3 L1586.5,597.9 L1588.4,597.4 L1590.4,597.0 L1592.3,596.5 L1594.3,596.1 L1596.2,595.6 L1598.2,595.2 L1600.1,594.7 L1602.1,594.3 L1604.0,593.9 L1606.0,593.5 L1607.9,593.0 L1609.9,592.6 L1611.8,592.2 L1613.8,591.8 L1615.8,591.4 L1617.7,591.0 L1619.7,590.6 L1621.6,590.2 L1623.6,589.8 L1625.5,589.4 L1627.5,589.0 L1629.5,588.6 L1631.4,588.2 L1633.4,587.8 L1635.4,587.4 L1637.3,587.1 L1639.3,586.7 L1641.3,586.3 L1643.2,586.0 L1645.2,585.6 L1647.2,585.3 L1649.1,584.9 L1651.1,584.6 L1653.1,584.2 L1655.0,583.9 L1657.0,583.6 L1659.0,583.2 L1661.0,582.9 L1662.9,582.6 L1664.9,582.3 L1666.9,582.0 L1668.9,581.7 L1670.8,581.4 L1672.8,581.1 L1674.8,580.8 L1676.8,580.5 L1678.7,580.2 L1680.7,580.0 L1682.7,579.7 L1684.7,579.5 L1686.7,579.2 L1688.7,579.0 L1690.6,578.8 L1692.6,578.5 L1694.6,578.3 L1696.6,578.1 L1698.6,577.9 L1700.6,577.7 L1702.6,577.6 L1704.6,577.4 L1706.6,577.2 L1708.5,577.0 L1710.5,576.9 L1712.5,576.7 L1714.5,576.5 L1716.5,576.4 L1718.5,576.2 L1720.5,576.0 L1722.5,575.9 L1724.5,575.7 L1726.5,575.5 L1728.4,575.3 L1730.4,575.1 L1732.4,574.9 L1734.4,574.7 L1736.4,574.4 L1738.3,574.2 L1740.3,573.9 L1742.3,573.7 L1744.3,573.4 L1746.2,573.1 L1748.2,572.7 L1750.2,572.4 L1752.1,572.1 L1754.1,571.7 L1756.1,571.4 L1758.0,571.0 L1760.0,570.6 L1761.9,570.2 L1763.9,569.8 L1765.9,569.4 L1767.8,569.0 L1769.8,568.6 L1771.7,568.2 L1773.7,567.8 L1775.6,567.3 L1777.6,566.9 L1779.6,566.5 L1781.5,566.1 L1783.5,565.7 L1785.4,565.3 L1787.4,564.9 L1789.3,564.4 L1791.3,564.0 L1793.3,563.6 L1795.2,563.2 L1797.2,562.8 L1799.1,562.4 L1801.1,562.0 L1803.1,561.6 L1805.0,561.2 L1807.0,560.8 L1808.9,560.4 L1810.9,560.1 L1812.9,559.7 L1814.8,559.3 L1816.8,558.9 L1818.8,558.5 L1820.7,558.1 L1822.7,557.8 L1824.6,557.4 L1826.6,557.0 L1828.6,556.6 L1830.5,556.3 L1832.5,555.9 L1834.4,555.5 L1836.4,555.2 L1838.3,554.8 L1840.2,554.4 L1842.1,554.1 L1844.0,553.7 L1846.0,553.4 L1847.9,553.0 L1849.7,552.7 L1851.6,552.4 L1853.5,552.0 L1855.4,551.7 L1857.3,551.3 L1859.3,551.0 L1861.2,550.6 L1863.2,550.3 L1865.2,549.9 L1867.2,549.6 L1869.3,549.2 L1871.4,548.9 L1873.6,548.5 L1875.7,548.3 L1877.9,548.0 L1880.0,547.8 L1882.0,547.6 L1884.0,547.3 L1885.9,547.0 L1887.8,546.6 L1889.6,546.1 L1891.3,544.9 L1892.9,543.3 L1894.5,541.8 L1896.1,540.8 L1897.7,540.6 L1899.4,541.5 L1901.0,543.0 L1902.6,544.6 L1904.3,545.9 L1906.1,546.3 L1908.0,546.2 L1909.9,546.1 L1911.9,545.9 L1914.0,545.7 L1916.1,545.5 L1918.2,545.3 L1920.2,545.1 L1922.2,544.9 L1924.1,544.9 L1926.0,545.0 L1927.7,545.9 L1929.3,547.3 L1930.9,548.9 L1932.5,550.3 L1934.3,551.1 L1936.1,551.1 L1938.0,551.0 L1940.0,550.9 L1942.1,550.8 L1944.1,550.6 L1946.2,550.4 L1948.2,550.2 L1950.2,550.0 L1952.1,549.7 L1954.0,549.3 L1956.0,548.7 L1957.9,548.2 L1959.8,547.5 L1961.7,546.9 L1963.6,546.3 L1965.6,545.7 L1967.5,545.1 L1969.4,544.6 L1971.4,544.1 L1973.3,543.6 L1975.2,543.1 L1977.2,542.6 L1979.1,542.1 L1981.0,541.6 L1983.0,541.1 L1984.9,540.6 L1986.9,540.2 L1988.8,539.7 L1990.8,539.2 L1992.7,538.7 L1994.6,538.2 L1996.6,537.8 L1998.5,537.3 L2000.5,536.8 L2002.4,536.3 L2004.3,535.8 L2006.3,535.4 L2008.2,534.9 L2010.2,534.4 L2012.1,533.9 L2014.1,533.5 L2016.0,533.0 L2017.9,532.5 L2019.9,532.0 L2021.8,531.6 L2023.8,531.1 L2025.7,530.6 L2027.7,530.2 L2029.6,529.7 L2031.2,529.3" stroke="#B7EB70"/>
<path d="M194.1,1396.2 L196.1,1396.2 L198.1,1396.2 L200.1,1396.2 L202.1,1396.2 L204.1,1396.2 L206.1,1396.2 L208.1,1396.2 L210.1,1396.2 L212.1,1396.2 L214.1,1396.2 L216.1,1396.2 L218.1,1396.2 L220.1,1396.2 L222.1,1396.2 L224.1,1396.2 L226.1,1396.2 L228.1,1396.2 L230.1,1396.2 L232.1,1396.2 L234.1,1396.2 L236.1,1396.2 L238.1,1396.2 L240.1,1396.2 L242.1,1396.2 L244.1,1396.2 L246.1,1396.2 L248.1,1396.2 L250.1,1396.2 L252.1,1396.2 L254.1,1396.2 L256.1,1396.2 L258.1,1396.2 L260.1,1396.2 L262.1,1396.2 L264.1,1396.2 L266.1,1396.2 L268.1,1396.2 L270.1,1396.2 L272.1,1396.2 L274.1,1396.2 L276.1,1396.2 L278.1,1396.2 L280.1,1396.2 L282.1,1396.2 L284.1,1396.2 L286.1,1396.2 L288.1,1396.2 L290.1,1396.2 L292.1,1396.2 L294.1,1396.2 L296.1,1396.2 L298.1,1396.2 L300.1,1396.2 L302.1,1396.2 L304.1,1396.2 L306.1,1396.2 L308.1,1396.2 L310.1,1396.2 L312.1,1396.2 L314.1,1396.2 L316.1,1396.2 L318.1,1396.2 L320.1,1396.2 L322.1,1396.2 L324.1,1396.2 L326.1,1396.2 L328.1,1396.2 L330.1,1396.2 L332.1,1396.2 L334.1,1396.2 L336.1,1396.2 L338.1,1396.2 L340.1,1396.2 L342.1,1396.2 L344.1,1396.2 L346.1,1396.2 L348.1,1396.2 L350.1,1396.2 L352.1,1396.2 L354.1,1396.2 L356.1,1396.2 L358.1,1396.2 L360.1,1396.2 L362.1,1396.2 L364.1,1396.2 L366.1,1396.2 L368.1,1396.2 L370.1,1396.2 L372.1,1396.2 L374.1,1396.2 L376.1,1396.2 L378.1,1396.2 L380.1,1396.2 L382.1,1396.2 L384.1,1396.2 L386.1,1396.2 L388.1,1396.2 L390.1,1396.2 L392.1,1396.2 L394.1,1396.2 L396.1,1396.2 L398.1,1396.2 L400.1,1396.2 L402.1,1396.2 L404.1,1396.2 L406.1,1396.2 L408.1,1396.2 L410.1,1396.2 L412.1,1396.2 L414.1,1396.2 L416.1,1396.2 L418.1,1396.2 L420.1,1396.2 L422.1,1396.2 L424.1,1396.2 L426.1,1396.2 L428.1,1396.2 L430.1,1396.2 L432.1,1396.2 L434.1,1396.2 L436.1,1396.2 L438.1,1396.2 L440.1,1396.2 L442.1,1396.2 L444.1,1396.2 L446.1,1396.2 L448.1,1396.2 L450.1,1396.3 L452.2,1396.4 L454.3,1396.4 L456.4,1396.3 L458.6,1396.3 L460.7,1396.2 L462.9,1396.1 L465.0,1395.9 L467.1,1395.8 L469.1,1395.6 L471.2,1395.4 L473.2,1395.2 L475.1,1395.1 L477.1,1394.9 L479.0,1394.7 L481.0,1394.5 L482.9,1394.3 L484.8,1394.0 L486.7,1393.8 L488.6,1393.6 L490.5,1393.4 L492.4,1393.2 L494.3,1392.9 L496.3,1392.7 L498.2,1392.4 L500.1,1392.2 L502.1,1392.0 L504.0,1391.7 L506.0,1391.4 L507.9,1391.2 L509.9,1390.9 L511.8,1390.6 L513.8,1390.3 L515.8,1390.0 L517.7,1389.7 L519.7,1389.4 L521.7,1389.1 L523.7,1388.8 L525.6,1388.5 L527.6,1388.1 L529.6,1387.8 L531.5,1387.5 L533.5,1387.1 L535.5,1386.7 L537.4,1386.4 L539.4,1386.0 L541.4,1385.6 L543.3,1385.2 L545.3,1384.9 L547.2,1384.5 L549.2,1384.1 L551.2,1383.7 L553.1,1383.2 L555.1,1382.8 L557.0,1382.4 L559.0,1382.0 L560.9,1381.5 L562.9,1381.1 L564.8,1380.6 L566.8,1380.2 L568.7,1379.7 L570.6,1379.2 L572.6,1378.8 L574.5,1378.3 L576.5,1377.8 L578.4,1377.3 L580.3,1376.8 L582.3,1376.3 L584.2,1375.8 L586.1,1375.2 L588.0,1374.7 L590.0,1374.2 L591.9,1373.6 L593.8,1373.1 L595.7,1372.5 L597.7,1372.0 L599.6,1371.4 L601.5,1370.8 L603.4,1370.3 L605.3,1369.7 L607.2,1369.1 L609.1,1368.5 L611.0,1367.9 L612.9,1367.3 L614.8,1366.6 L616.7,1366.0 L618.6,1365.4 L620.5,1364.8 L622.4,1364.1 L624.3,1363.5 L626.2,1362.8 L628.1,1362.2 L630.0,1361.5 L631.9,1360.8 L633.7,1360.2 L635.6,1359.5 L637.5,1358.8 L639.4,1358.1 L641.3,1357.4 L643.1,1356.8 L645.0,1356.1 L646.9,1355.4 L648.8,1354.7 L650.6,1354.0 L652.5,1353.3 L654.4,1352.6 L656.3,1351.9 L658.1,1351.2 L660.0,1350.5 L661.9,1349.8 L663.8,1349.1 L665.6,1348.4 L667.5,1347.7 L669.4,1347.0 L671.3,1346.3 L673.1,1345.6 L675.0,1344.9 L676.9,1344.2 L678.8,1343.5 L680.6,1342.8 L682.5,1342.2 L684.4,1341.5 L686.3,1340.8 L688.2,1340.1 L690.0,1339.4 L691.9,1338.8 L693.8,1338.1 L695.7,1337.4 L697.6,1336.7 L699.5,1336.1 L701.3,1335.4 L703.2,1334.7 L705.1,1334.0 L707.0,1333.4 L708.9,1332.7 L710.8,1332.1 L712.7,1331.4 L714.5,1330.7 L716.4,1330.1 L718.3,1329.4 L720.2,1328.8 L722.1,1328.1 L724.0,1327.5 L725.9,1326.8 L727.8,1326.2 L729.7,1325.5 L731.6,1324.9 L733.5,1324.3 L735.4,1323.6 L737.3,1323.0 L739.1,1322.4 L741.0,1321.7 L742.9,1321.1 L744.8,1320.4 L746.7,1319.8 L748.6,1319.2 L750.5,1318.6 L752.4,1317.9 L754.3,1317.3 L756.2,1316.7 L758.1,1316.1 L760.0,1315.4 L761.9,1314.8 L763.8,1314.2 L765.7,1313.6 L767.6,1313.0 L769.5,1312.3 L771.4,1311.7 L773.3,1311.1 L775.3,1310.5 L777.2,1309.9 L779.1,1309.3 L781.0,1308.7 L782.9,1308.0 L784.8,1307.4 L786.7,1306.8 L788.6,1306.2 L790.5,1305.6 L792.4,1305.0 L794.3,1304.4 L796.2,1303.8 L798.1,1303.2 L800.0,1302.6 L801.9,1302.0 L803.8,1301.4 L805.7,1300.8 L807.7,1300.2 L809.6,1299.6 L811.5,1299.0 L813.4,1298.4 L815.3,1297.8 L817.2,1297.2 L819.1,1296.6 L821.0,1296.0 L822.9,1295.4 L824.8,1294.8 L826.7,1294.2 L828.7,1293.6 L830.6,1293.1 L832.5,1292.5 L834.4,1291.9 L836.3,1291.3 L838.2,1290.7 L840.1,1290.1 L842.0,1289.5 L843.9,1288.9 L845.9,1288.3 L847.8,1287.8 L849.7,1287.2 L851.6,1286.6 L853.5,1286.0 L855.4,1285.4 L857.3,1284.8 L859.2,1284.3 L861.2,1283.7 L863.1,1283.1 L865.0,1282.5 L866.9,1281.9 L868.8,1281.3 L870.7,1280.8 L872.6,1280.2 L874.6,1279.6 L876.5,1279.0 L878.4,1278.4 L880.3,1277.9 L882.2,1277.3 L884.1,1276.7 L886.0,1276.1 L888.0,1275.6 L889.9,1275.0 L891.8,1274.4 L893.7,1273.8 L895.6,1273.3 L897.5,1272.7 L899.5,1272.1 L901.4,1271.5 L903.3,1271.0 L905.2,1270.4 L907.1,1269.8 L909.0,1269.3 L911.0,1268.7 L912.9,1268.1 L914.8,1267.5 L916.7,1267.0 L918.6,1266.4 L920.5,1265.8 L922.5,1265.3 L924.4,1264.7 L926.3,1264.1 L928.2,1263.6 L930.1,1263.0 L932.0,1262.4 L934.0,1261.9 L935.9,1261.3 L937.8,1260.8 L939.7,1260.2 L941.6,1259.6 L943.6,1259.1 L945.5,1258.5 L947.4,1257.9 L949.3,1257.4 L951.2,1256.8 L953.2,1256.3 L955.1,1255.7 L957.0,1255.2 L958.9,1254.6 L960.8,1254.0 L962.8,1253.5 L964.7,1252.9 L966.6,1252.4 L968.5,1251.8 L970.5,1251.3 L972.4,1250.7 L974.3,1250.2 L976.2,1249.6 L978.2,1249.1 L980.1,1248.5 L982.0,1248.0 L983.9,1247.5 L985.8,1246.9 L987.8,1246.4 L989.7,1245.8 L991.6,1245.3 L993.6,1244.7 L995.5,1244.2 L997.4,1243.7 L999.3,1243.1 L1001.3,1242.6 L1003.2,1242.1 L1005.1,1241.5 L1007.0,1241.0 L1009.0,1240.5 L1010.9,1239.9 L1012.8,1239.4 L1014.8,1238.9 L1016.7,1238.4 L1018.6,1237.8 L1020.5,1237.3 L1022.5,1236.8 L1024.4,1236.3 L1026.3,1235.7 L1028.3,1235.2 L1030.2,1234.7 L1032.1,1234.2 L1034.1,1233.7 L1036.0,1233.2 L1037.9,1232.7 L1039.9,1232.2 L1041.8,1231.7 L1043.7,1231.1 L1045.7,1230.6 L1047.6,1230.1 L1049.5,1229.6 L1051.5,1229.1 L1053.4,1228.7 L1055.4,1228.2 L1057.3,1227.7 L1059.2,1227.2 L1061.2,1226.7 L1063.1,1226.2 L1065.1,1225.7 L1067.0,1225.2 L1068.9,1224.8 L1070.9,1224.3 L1072.8,1223.8 L1074.8,1223.3 L1076.7,1222.9 L1078.7,1222.4 L1080.6,1221.9 L1082.5,1221.5 L1084.5,1221.0 L1086.4,1220.6 L1088.4,1220.1 L1090.3,1219.6 L1092.3,1219.2 L1094.2,1218.7 L1096.2,1218.3 L1098.1,1217.9 L1100.1,1217.4 L1102.0,1217.0 L1104.0,1216.5 L1105.9,1216.1 L1107.9,1215.7 L1109.8,1215.3 L1111.8,1214.8 L1113.7,1214.4 L1115.7,1214.0 L1117.6,1213.6 L1119.6,1213.1 L1121.6,1212.7 L1123.5,1212.3 L1125.5,1211.9 L1127.4,1211.5 L1129.3,1211.1 L1131.3,1210.7 L1133.2,1210.2 L1135.2,1209.8 L1137.1,1209.4 L1139.0,1209.0 L1140.9,1208.6 L1142.8,1208.2 L1144.7,1207.8 L1146.6,1207.4 L1148.5,1207.0 L1150.4,1206.6 L1152.3,1206.2 L1154.2,1205.8 L1156.1,1205.4 L1157.9,1205.0 L1159.8,1204.6 L1161.7,1204.2 L1163.6,1203.8 L1165.5,1203.4 L1167.5,1203.0 L1169.4,1202.5 L1171.4,1202.1 L1173.4,1201.6 L1175.5,1201.1 L1177.5,1200.6 L1179.6,1200.1 L1181.7,1199.6 L1183.8,1199.1 L1185.9,1198.5 L1187.9,1198.0 L1189.9,1197.5 L1191.8,1197.0 L1193.8,1196.5 L1195.7,1196.0 L1197.6,1195.4 L1199.5,1194.9 L1201.5,1194.3 L1203.4,1193.7 L1205.3,1193.1 L1207.2,1192.5 L1209.1,1191.9 L1211.0,1191.3 L1212.9,1190.7 L1214.8,1190.2 L1216.7,1189.6 L1218.7,1189.0 L1220.6,1188.5 L1222.5,1187.9 L1224.4,1187.4 L1226.4,1186.9 L1228.3,1186.3 L1230.2,1185.8 L1232.2,1185.3 L1234.1,1184.8 L1236.0,1184.3 L1238.0,1183.8 L1239.9,1183.2 L1241.8,1182.8 L1243.8,1182.3 L1245.7,1181.8 L1247.7,1181.3 L1249.6,1180.9 L1251.6,1180.4 L1253.5,1180.0 L1255.5,1179.5 L1257.4,1179.1 L1259.4,1178.7 L1261.3,1178.4 L1263.3,1178.0 L1265.3,1177.7 L1267.4,1177.3 L1269.5,1177.0 L1271.6,1176.6 L1273.8,1176.3 L1275.9,1175.9 L1278.0,1175.6 L1280.0,1175.2 L1282.1,1174.9 L1284.1,1174.5 L1286.1,1174.2 L1288.0,1173.8 L1289.9,1173.4 L1291.8,1173.0 L1293.7,1172.6 L1295.6,1172.2 L1297.5,1171.8 L1299.4,1171.4 L1301.2,1171.0 L1303.1,1170.6 L1305.0,1170.2 L1306.9,1169.8 L1308.8,1169.4 L1310.7,1169.0 L1312.6,1168.6 L1314.5,1168.1 L1316.4,1167.7 L1318.4,1167.3 L1320.3,1166.9 L1322.2,1166.5 L1324.2,1166.1 L1326.1,1165.6 L1328.1,1165.2 L1330.0,1164.8 L1332.0,1164.3 L1333.9,1163.9 L1335.9,1163.5 L1337.8,1163.0 L1339.8,1162.6 L1341.7,1162.2 L1343.7,1161.7 L1345.6,1161.3 L1347.6,1160.9 L1349.5,1160.4 L1351.5,1160.0 L1353.4,1159.6 L1355.4,1159.1 L1357.3,1158.7 L1359.3,1158.3 L1361.2,1157.8 L1363.2,1157.4 L1365.1,1157.0 L1367.1,1156.5 L1369.0,1156.1 L1371.0,1155.7 L1372.9,1155.2 L1374.9,1154.8 L1376.8,1154.4 L1378.8,1153.9 L1380.7,1153.5 L1382.7,1153.0 L1384.7,1152.6 L1386.6,1152.2 L1388.6,1151.7 L1390.5,1151.3 L1392.5,1150.9 L1394.4,1150.4 L1396.4,1150.0 L1398.3,1149.6 L1400.3,1149.1 L1402.2,1148.7 L1404.2,1148.3 L1406.1,1147.8 L1408.1,1147.4 L1410.0,1147.0 L1412.0,1146.6 L1413.9,1146.1 L1415.9,1145.7 L1417.8,1145.3 L1419.8,1144.8 L1421.8,1144.4 L1423.7,1144.0 L1425.7,1143.5 L1427.6,1143.1 L1429.6,1142.7 L1431.5,1142.2 L1433.5,1141.8 L1435.4,1141.4 L1437.4,1141.0 L1439.3,1140.5 L1441.3,1140.1 L1443.2,1139.7 L1445.2,1139.2 L1447.1,1138.8 L1449.1,1138.4 L1451.1,1138.0 L1453.0,1137.5 L1455.0,1137.1 L1456.9,1136.7 L1458.9,1136.2 L1460.8,1135.8 L1462.8,1135.4 L1464.7,1135.0 L1466.7,1134.5 L1468.6,1134.1 L1470.6,1133.7 L1472.5,1133.3 L1474.5,1132.8 L1476.5,1132.4 L1478.4,1132.0 L1480.4,1131.6 L1482.3,1131.2 L1484.3,1130.7 L1486.2,1130.3 L1488.2,1129.9 L1490.1,1129.5 L1492.1,1129.0 L1494.1,1128.6 L1496.0,1128.2 L1498.0,1127.8 L1499.9,1127.4 L1501.9,1127.0 L1503.8,1126.5 L1505.8,1126.1 L1507.7,1125.7 L1509.7,1125.3 L1511.7,1124.9 L1513.6,1124.4 L1515.6,1124.0 L1517.5,1123.6 L1519.5,1123.2 L1521.4,1122.8 L1523.4,1122.4 L1525.3,1122.0 L1527.3,1121.5 L1529.3,1121.1 L1531.2,1120.7 L1533.2,1120.3 L1535.1,1119.9 L1537.1,1119.5 L1539.0,1119.1 L1541.0,1118.7 L1543.0,1118.3 L1544.9,1117.8 L1546.9,1117.4 L1548.8,1117.0 L1550.8,1116.6 L1552.8,1116.2 L1554.7,1115.8 L1556.7,1115.4 L1558.6,1115.0 L1560.6,1114.6 L1562.5,1114.2 L1564.5,1113.8 L1566.5,1113.4 L1568.4,1113.0 L1570.4,1112.6 L1572.3,1112.2 L1574.3,1111.8 L1576.3,1111.4 L1578.2,1111.0 L1580.2,1110.6 L1582.1,1110.2 L1584.1,1109.8 L1586.1,1109.4 L1588.0,1109.0 L1590.0,1108.6 L1591.9,1108.2 L1593.9,1107.8 L1595.9,1107.4 L1597.8,1107.0 L1599.8,1106.6 L1601.7,1106.2 L1603.7,1105.8 L1605.7,1105.4 L1607.6,1105.0 L1609.6,1104.6 L1611.5,1104.3 L1613.5,1103.9 L1615.5,1103.5 L1617.4,1103.1 L1619.4,1102.7 L1621.4,1102.3 L1623.3,1101.9 L1625.3,1101.6 L1627.2,1101.2 L1629.2,1100.8 L1631.2,1100.4 L1633.1,1100.0 L1635.1,1099.6 L1637.1,1099.3 L1639.0,1098.9 L1641.0,1098.5 L1643.0,1098.1 L1644.9,1097.7 L1646.9,1097.4 L1648.8,1097.0 L1650.8,1096.6 L1652.8,1096.2 L1654.7,1095.9 L1656.7,1095.5 L1658.7,1095.1 L1660.6,1094.7 L1662.6,1094.4 L1664.6,1094.0 L1666.5,1093.6 L1668.5,1093.3 L1670.5,1092.9 L1672.4,1092.5 L1674.4,1092.2 L1676.4,1091.8 L1678.3,1091.4 L1680.3,1091.1 L1682.3,1090.7 L1684.2,1090.3 L1686.2,1090.0 L1688.2,1089.6 L1690.1,1089.3 L1692.1,1088.9 L1694.1,1088.5 L1696.0,1088.2 L1698.0,1087.8 L1700.0,1087.5 L1701.9,1087.1 L1703.9,1086.8 L1705.9,1086.4 L1707.8,1086.1 L1709.8,1085.7 L1711.8,1085.4 L1713.8,1085.0 L1715.7,1084.7 L1717.7,1084.3 L1719.7,1084.0 L1721.6,1083.6 L1723.6,1083.3 L1725.6,1082.9 L1727.5,1082.6 L1729.5,1082.3 L1731.5,1081.9 L1733.5,1081.6 L1735.4,1081.2 L1737.4,1080.9 L1739.4,1080.6 L1741.3,1080.2 L1743.3,1079.9 L1745.3,1079.6 L1747.3,1079.2 L1749.2,1078.9 L1751.2,1078.6 L1753.2,1078.2 L1755.2,1077.9 L1757.1,1077.6 L1759.1,1077.2 L1761.1,1076.9 L1763.0,1076.6 L1765.0,1076.3 L1767.0,1076.0 L1769.0,1075.6 L1771.0,1075.3 L1772.9,1075.0 L1774.9,1074.7 L1776.9,1074.4 L1778.9,1074.0 L1780.8,1073.7 L1782.8,1073.4 L1784.8,1073.1 L1786.8,1072.8 L1788.8,1072.5 L1790.7,1072.1 L1792.7,1071.8 L1794.7,1071.5 L1796.7,1071.2 L1798.7,1070.9 L1800.6,1070.6 L1802.6,1070.3 L1804.6,1070.0 L1806.5,1069.7 L1808.5,1069.3 L1810.5,1069.0 L1812.4,1068.7 L1814.4,1068.4 L1816.3,1068.1 L1818.3,1067.8 L1820.2,1067.4 L1822.1,1067.1 L1824.0,1066.8 L1826.0,1066.5 L1827.9,1066.2 L1829.8,1065.9 L1831.7,1065.6 L1833.6,1065.3 L1835.5,1065.0 L1837.4,1064.6 L1839.3,1064.3 L1841.2,1064.0 L1843.1,1063.7 L1845.1,1063.3 L1847.1,1063.0 L1849.1,1062.6 L1851.1,1062.2 L1853.2,1061.8 L1855.2,1061.4 L1857.3,1061.0 L1859.4,1060.6 L1861.5,1060.1 L1863.6,1059.6 L1865.6,1059.1 L1867.6,1058.7 L1869.5,1058.2 L1871.4,1057.7 L1873.3,1057.2 L1875.2,1056.6 L1877.1,1055.9 L1878.9,1055.1 L1880.8,1054.3 L1882.7,1053.5 L1884.5,1052.7 L1886.4,1051.9 L1888.3,1051.3 L1890.1,1050.7 L1892.1,1050.2 L1894.0,1049.8 L1895.9,1049.4 L1897.9,1049.0 L1899.9,1048.6 L1901.8,1048.3 L1903.8,1048.0 L1905.8,1047.7 L1907.8,1047.4 L1909.8,1047.1 L1911.8,1046.8 L1913.8,1046.5 L1915.7,1046.3 L1917.7,1046.0 L1919.7,1045.7 L1921.7,1045.4 L1923.7,1045.1 L1925.7,1044.9 L1927.7,1044.6 L1929.8,1044.3 L1931.9,1044.1 L1934.0,1043.8 L1936.2,1043.5 L1938.3,1043.3 L1940.4,1043.0 L1942.5,1042.7 L1944.5,1042.5 L1946.5,1042.2 L1948.5,1042.0 L1950.5,1041.7 L1952.5,1041.5 L1954.4,1041.2 L1956.3,1041.0 L1958.2,1040.7 L1960.1,1040.4 L1962.0,1040.2 L1963.9,1039.9 L1965.8,1039.6 L1967.7,1039.4 L1969.6,1039.1 L1971.5,1038.8 L1973.4,1038.5 L1975.3,1038.3 L1977.2,1038.0 L1979.1,1037.7 L1981.1,1037.4 L1983.0,1037.1 L1984.9,1036.8 L1986.8,1036.6 L1988.7,1036.3 L1990.6,1036.0 L1992.5,1035.7 L1994.3,1035.4 L1996.2,1035.1 L1998.1,1034.8 L2000.0,1034.6 L2001.9,1034.3 L2003.8,1034.0 L2005.7,1033.7 L2007.7,1033.3 L2009.6,1033.0 L2011.6,1032.7 L2013.6,1032.4 L2015.7,1032.0 L2017.8,1031.7 L2019.9,1031.3 L2022.0,1031.0 L2024.1,1030.6 L2026.3,1030.2 L2028.4,1029.8 L2030.5,1029.5 L2031.2,1029.3" stroke="#3CFA3C"/>
</g>
<g stroke="#000" stroke-width="8" fill="none" shape-rendering="crispEdges">
<rect x="194" y="52" width="1837" height="1479"/>
<path d="M194,1396.5h18 M194,1127.6h18 M194,858.7h18 M194,589.8h18 M194,320.9h18 M194,1262.1h9 M194,993.2h9 M194,724.3h9 M194,455.4h9 M194,186.5h9 M264.7,1531v-18 M617.9,1531v-18 M971.2,1531v-18 M1324.5,1531v-18 M1677.7,1531v-18 M441.3,1531v-9 M794.6,1531v-9 M1147.8,1531v-9 M1501.1,1531v-9 M1854.4,1531v-9"/>
</g>
<g font-size="71.4" text-anchor="end">
<text x="174.8" y="1417.9">0</text>
<text x="174.8" y="1149.0">10</text>
<text x="174.8" y="880.1">20</text>
<text x="174.8" y="611.2">30</text>
<text x="174.8" y="342.3">40</text>
<text x="174.8" y="73.4">50</text>
</g>
<g font-size="71.3" text-anchor="middle">
<text x="264.7" y="1605.3">300</text>
<text x="617.9" y="1605.3">400</text>
<text x="971.2" y="1605.3">500</text>
<text x="1324.5" y="1605.3">600</text>
<text x="1677.7" y="1605.3">700</text>
<text x="2031.0" y="1605.3">800</text>
</g>
<text font-size="69.2" text-anchor="middle" x="1115.0" y="1718.5">Wavelength (nm)</text>
<text font-size="69.2" text-anchor="middle" transform="translate(79.3,791.5) rotate(-90)">Transmittance (%)</text>
<text font-size="69.4" x="222" y="128.8">(a)</text>
<g stroke-width="11" stroke-linecap="round" fill="none" shape-rendering="crispEdges">
<path d="M1486.5,1323.3H1629.5" stroke="#ECE76F"/>
<path d="M1486.5,1402.8H1629.5" stroke="#B7EB70"/>
<path d="M1486.5,1482.3H1629.5" stroke="#3CFA3C"/>
</g>
<g font-size="62.9">
<text x="1645.0" y="1343.6">CNF</text>
<text x="1645.0" y="1423.1">CNF/1T-LNP</text>
<text x="1645.0" y="1502.6">CNF/3T-LNP</text>
</g>
<clipPath id="clipb"><rect x="212" y="2117" width="1902" height="1533"/></clipPath>
<g clip-path="url(#clipb)" fill="none" stroke-width="12" stroke-linejoin="round" stroke-linecap="butt" shape-rendering="crispEdges">
<path d="M208.6,3166.6 L210.2,3165.2 L211.8,3163.8 L213.4,3162.4 L215.0,3161.0 L216.6,3159.6 L218.1,3158.3 L219.5,3156.9 L221.0,3155.6 L222.4,3154.3 L223.7,3152.9 L225.1,3151.6 L226.4,3150.2 L227.8,3148.8 L229.1,3147.4 L230.4,3146.0 L231.7,3144.5 L233.0,3143.0 L234.3,3141.5 L235.6,3140.0 L236.8,3138.5 L238.0,3136.9 L239.2,3135.3 L240.4,3133.7 L241.5,3132.1 L242.7,3130.4 L243.8,3128.8 L244.9,3127.1 L245.9,3125.4 L247.0,3123.7 L248.0,3122.0 L249.0,3120.3 L250.1,3118.6 L251.1,3116.9 L252.1,3115.1 L253.0,3113.4 L254.0,3111.6 L255.0,3109.9 L255.9,3108.1 L256.9,3106.4 L257.8,3104.6 L258.8,3102.9 L259.7,3101.1 L260.6,3099.3 L261.6,3097.6 L262.5,3095.8 L263.5,3094.0 L264.4,3092.3 L265.3,3090.5 L266.3,3088.7 L267.3,3087.0 L268.2,3085.3 L269.2,3083.5 L270.2,3081.8 L271.2,3080.1 L272.2,3078.3 L273.2,3076.6 L274.2,3074.9 L275.2,3073.3 L276.2,3071.6 L277.1,3070.0 L278.1,3068.3 L279.1,3066.7 L280.2,3065.0 L281.2,3063.4 L282.2,3061.7 L283.3,3060.0 L284.5,3058.3 L285.7,3056.5 L286.9,3054.8 L288.2,3053.0 L289.4,3051.3 L290.7,3049.7 L292.0,3048.2 L293.5,3046.9 L295.2,3045.9 L296.8,3044.7 L298.3,3042.9 L299.7,3041.4 L300.9,3041.5 L302.0,3043.2 L303.0,3045.6 L304.1,3047.7 L305.3,3048.4 L306.7,3048.1 L308.1,3047.4 L309.7,3046.3 L311.3,3045.0 L313.0,3043.5 L314.8,3041.8 L316.6,3040.0 L318.3,3038.4 L319.9,3036.9 L321.5,3035.6 L323.0,3034.4 L324.5,3033.1 L325.9,3031.8 L327.4,3030.5 L328.8,3029.2 L330.3,3027.9 L331.7,3026.6 L333.2,3025.3 L334.7,3024.0 L336.1,3022.7 L337.6,3021.3 L339.1,3020.0 L340.6,3018.6 L342.1,3017.3 L343.5,3015.9 L345.0,3014.6 L346.5,3013.2 L348.0,3011.9 L349.4,3010.5 L350.9,3009.1 L352.3,3007.8 L353.8,3006.4 L355.2,3005.0 L356.7,3003.6 L358.1,3002.2 L359.5,3000.8 L361.0,2999.4 L362.4,2998.0 L363.8,2996.6 L365.2,2995.2 L366.6,2993.8 L368.1,2992.4 L369.5,2991.0 L370.8,2989.5 L372.2,2988.1 L373.6,2986.6 L375.0,2985.2 L376.3,2983.7 L377.7,2982.3 L379.1,2980.8 L380.4,2979.3 L381.7,2977.8 L383.1,2976.3 L384.4,2974.8 L385.7,2973.3 L387.0,2971.8 L388.3,2970.3 L389.6,2968.8 L390.9,2967.3 L392.2,2965.7 L393.5,2964.2 L394.8,2962.6 L396.0,2961.1 L397.3,2959.5 L398.5,2958.0 L399.8,2956.4 L401.0,2954.8 L402.2,2953.3 L403.5,2951.7 L404.7,2950.1 L405.9,2948.5 L407.1,2947.0 L408.4,2945.4 L409.6,2943.8 L410.8,2942.2 L412.0,2940.6 L413.2,2939.0 L414.4,2937.4 L415.7,2935.8 L416.9,2934.2 L418.1,2932.7 L419.3,2931.1 L420.5,2929.5 L421.8,2927.9 L423.0,2926.3 L424.2,2924.8 L425.5,2923.2 L426.7,2921.6 L428.0,2920.1 L429.2,2918.5 L430.5,2917.0 L431.8,2915.4 L433.0,2913.9 L434.3,2912.4 L435.6,2910.8 L436.9,2909.3 L438.2,2907.8 L439.5,2906.3 L440.9,2904.8 L442.2,2903.3 L443.6,2901.9 L444.9,2900.4 L446.3,2898.9 L447.6,2897.4 L449.0,2896.0 L450.4,2894.5 L451.8,2893.1 L453.2,2891.7 L454.6,2890.2 L456.0,2888.8 L457.4,2887.4 L458.8,2886.0 L460.2,2884.6 L461.6,2883.2 L463.1,2881.8 L464.5,2880.4 L466.0,2879.0 L467.4,2877.7 L468.9,2876.3 L470.4,2875.0 L471.8,2873.6 L473.3,2872.3 L474.8,2871.0 L476.4,2869.7 L477.9,2868.4 L479.4,2867.1 L481.0,2865.9 L482.5,2864.6 L484.1,2863.3 L485.6,2862.1 L487.2,2860.9 L488.8,2859.6 L490.4,2858.4 L491.9,2857.2 L493.5,2856.0 L495.1,2854.7 L496.7,2853.5 L498.3,2852.3 L499.9,2851.1 L501.5,2849.9 L503.1,2848.7 L504.7,2847.5 L506.3,2846.3 L507.9,2845.1 L509.5,2844.0 L511.2,2842.8 L512.8,2841.7 L514.4,2840.5 L516.1,2839.4 L517.7,2838.3 L519.3,2837.2 L521.0,2836.1 L522.6,2835.0 L524.2,2833.9 L525.8,2832.9 L527.5,2831.8 L529.1,2830.8 L530.7,2829.7 L532.3,2828.7 L534.0,2827.6 L535.9,2826.6 L537.8,2825.5 L539.7,2824.4 L541.7,2823.3 L543.4,2822.1 L544.9,2820.9 L546.1,2819.5 L547.0,2817.8 L547.7,2815.8 L548.3,2813.8 L549.1,2811.9 L550.0,2810.6 L551.3,2809.4 L552.7,2808.3 L554.3,2807.3 L556.1,2806.4 L558.0,2805.5 L560.1,2804.6 L562.3,2803.7 L564.4,2802.8 L566.5,2802.0 L568.4,2801.1 L570.2,2800.3 L572.0,2799.4 L573.7,2798.6 L575.5,2797.8 L577.2,2797.0 L579.0,2796.2 L580.8,2795.3 L582.6,2794.5 L584.4,2793.7 L586.2,2792.9 L588.0,2792.1 L589.9,2791.3 L591.7,2790.5 L593.5,2789.7 L595.4,2788.9 L597.2,2788.1 L599.0,2787.3 L600.9,2786.6 L602.7,2785.8 L604.6,2785.0 L606.4,2784.3 L608.3,2783.5 L610.1,2782.8 L612.0,2782.0 L613.8,2781.2 L615.7,2780.5 L617.5,2779.8 L619.4,2779.0 L621.3,2778.3 L623.1,2777.5 L625.0,2776.8 L626.8,2776.0 L628.7,2775.3 L630.6,2774.6 L632.4,2773.9 L634.3,2773.1 L636.1,2772.4 L638.0,2771.7 L639.9,2771.0 L641.8,2770.3 L643.6,2769.6 L645.5,2768.9 L647.4,2768.2 L649.3,2767.5 L651.1,2766.9 L653.0,2766.2 L654.9,2765.5 L656.8,2764.8 L658.7,2764.2 L660.6,2763.5 L662.4,2762.8 L664.3,2762.2 L666.2,2761.5 L668.1,2760.8 L670.0,2760.2 L671.9,2759.5 L673.8,2758.9 L675.7,2758.2 L677.6,2757.6 L679.4,2756.9 L681.3,2756.3 L683.2,2755.6 L685.1,2755.0 L687.0,2754.3 L688.9,2753.7 L690.8,2753.0 L692.7,2752.4 L694.6,2751.7 L696.5,2751.1 L698.4,2750.5 L700.3,2749.9 L702.2,2749.2 L704.1,2748.6 L706.0,2748.0 L707.9,2747.4 L709.8,2746.8 L711.7,2746.2 L713.6,2745.6 L715.5,2745.0 L717.5,2744.5 L719.4,2743.9 L721.3,2743.3 L723.2,2742.7 L725.1,2742.1 L727.0,2741.6 L728.9,2741.0 L730.9,2740.4 L732.8,2739.8 L734.7,2739.3 L736.6,2738.7 L738.5,2738.1 L740.4,2737.5 L742.3,2736.9 L744.3,2736.4 L746.2,2735.8 L748.1,2735.2 L750.0,2734.6 L751.9,2734.0 L753.8,2733.5 L755.7,2732.9 L757.7,2732.3 L759.6,2731.7 L761.5,2731.2 L763.4,2730.6 L765.3,2730.0 L767.2,2729.5 L769.2,2728.9 L771.1,2728.3 L773.0,2727.8 L774.9,2727.2 L776.8,2726.6 L778.8,2726.1 L780.7,2725.5 L782.6,2725.0 L784.5,2724.4 L786.4,2723.8 L788.4,2723.3 L790.3,2722.7 L792.2,2722.2 L794.1,2721.6 L796.0,2721.1 L798.0,2720.5 L799.9,2720.0 L801.8,2719.4 L803.7,2718.8 L805.6,2718.3 L807.6,2717.7 L809.5,2717.2 L811.4,2716.6 L813.3,2716.1 L815.3,2715.5 L817.2,2715.0 L819.1,2714.4 L821.0,2713.9 L822.9,2713.3 L824.9,2712.8 L826.8,2712.2 L828.7,2711.6 L830.6,2711.1 L832.6,2710.5 L834.5,2710.0 L836.4,2709.4 L838.3,2708.9 L840.2,2708.3 L842.2,2707.7 L844.1,2707.2 L846.0,2706.6 L847.9,2706.1 L849.8,2705.5 L851.8,2704.9 L853.7,2704.4 L855.6,2703.8 L857.5,2703.2 L859.4,2702.7 L861.3,2702.1 L863.3,2701.6 L865.2,2701.0 L867.1,2700.4 L869.0,2699.8 L870.9,2699.3 L872.9,2698.7 L874.8,2698.1 L876.7,2697.6 L878.6,2697.0 L880.5,2696.4 L882.4,2695.8 L884.3,2695.3 L886.3,2694.7 L888.2,2694.1 L890.1,2693.5 L892.0,2692.9 L893.9,2692.4 L895.8,2691.8 L897.7,2691.2 L899.7,2690.6 L901.6,2690.0 L903.5,2689.4 L905.4,2688.9 L907.3,2688.3 L909.2,2687.7 L911.1,2687.1 L913.0,2686.5 L914.9,2685.9 L916.9,2685.3 L918.8,2684.7 L920.7,2684.1 L922.6,2683.5 L924.5,2682.9 L926.4,2682.4 L928.3,2681.8 L930.2,2681.2 L932.1,2680.6 L934.0,2680.0 L936.0,2679.4 L937.9,2678.8 L939.8,2678.2 L941.7,2677.6 L943.6,2677.0 L945.5,2676.4 L947.4,2675.8 L949.3,2675.2 L951.2,2674.6 L953.1,2674.0 L955.0,2673.4 L956.9,2672.8 L958.8,2672.2 L960.8,2671.6 L962.7,2671.0 L964.6,2670.4 L966.5,2669.8 L968.4,2669.2 L970.3,2668.6 L972.2,2668.0 L974.1,2667.4 L976.0,2666.8 L977.9,2666.2 L979.8,2665.6 L981.7,2665.0 L983.7,2664.4 L985.6,2663.8 L987.5,2663.2 L989.4,2662.6 L991.3,2662.0 L993.2,2661.4 L995.1,2660.8 L997.0,2660.2 L998.9,2659.6 L1000.8,2659.0 L1002.8,2658.4 L1004.7,2657.9 L1006.6,2657.3 L1008.5,2656.7 L1010.4,2656.1 L1012.3,2655.5 L1014.2,2654.9 L1016.1,2654.4 L1018.1,2653.8 L1020.0,2653.2 L1021.9,2652.6 L1023.8,2652.1 L1025.7,2651.5 L1027.6,2650.9 L1029.6,2650.4 L1031.5,2649.8 L1033.4,2649.2 L1035.3,2648.7 L1037.2,2648.1 L1039.2,2647.6 L1041.1,2647.0 L1043.0,2646.5 L1044.9,2646.0 L1046.9,2645.4 L1048.8,2644.9 L1050.7,2644.4 L1052.7,2643.8 L1054.6,2643.3 L1056.5,2642.8 L1058.4,2642.3 L1060.4,2641.8 L1062.3,2641.3 L1064.3,2640.8 L1066.2,2640.3 L1068.1,2639.8 L1070.1,2639.3 L1072.0,2638.8 L1074.0,2638.3 L1075.9,2637.9 L1077.9,2637.4 L1079.8,2636.9 L1081.8,2636.5 L1083.8,2636.0 L1085.7,2635.6 L1087.7,2635.1 L1089.7,2634.7 L1091.7,2634.3 L1093.7,2633.9 L1095.7,2633.4 L1097.7,2633.0 L1099.7,2632.6 L1101.7,2632.2 L1103.7,2631.8 L1105.7,2631.4 L1107.7,2631.0 L1109.6,2630.6 L1111.6,2630.3 L1113.6,2629.9 L1115.6,2629.5 L1117.6,2629.2 L1119.6,2628.8 L1121.6,2628.4 L1123.7,2628.0 L1125.8,2627.6 L1127.9,2627.1 L1130.0,2626.6 L1132.0,2626.0 L1133.9,2625.4 L1135.7,2624.8 L1137.4,2624.2 L1139.0,2623.5 L1140.6,2622.8 L1142.1,2622.0 L1143.5,2620.9 L1144.7,2619.2 L1145.9,2617.3 L1147.1,2615.6 L1148.4,2614.4 L1150.0,2613.7 L1151.6,2613.0 L1153.2,2612.3 L1155.0,2611.7 L1156.8,2611.2 L1158.8,2610.6 L1160.8,2610.2 L1163.0,2609.7 L1165.1,2609.3 L1167.3,2608.9 L1169.4,2608.5 L1171.4,2608.1 L1173.5,2607.7 L1175.4,2607.3 L1177.4,2606.9 L1179.3,2606.5 L1181.3,2606.1 L1183.2,2605.6 L1185.1,2605.2 L1187.1,2604.7 L1189.1,2604.2 L1191.0,2603.7 L1193.0,2603.2 L1194.9,2602.7 L1196.9,2602.2 L1198.8,2601.7 L1200.8,2601.1 L1202.7,2600.6 L1204.6,2600.0 L1206.6,2599.5 L1208.5,2598.9 L1210.4,2598.3 L1212.3,2597.8 L1214.2,2597.2 L1216.1,2596.6 L1218.1,2596.0 L1220.0,2595.5 L1221.9,2594.9 L1223.8,2594.3 L1225.7,2593.8 L1227.5,2593.2 L1229.4,2592.6 L1231.3,2592.1 L1233.1,2591.5 L1234.9,2590.9 L1236.8,2590.4 L1238.6,2589.8 L1240.5,2589.3 L1242.4,2588.7 L1244.3,2588.1 L1246.3,2587.5 L1248.4,2586.9 L1250.4,2586.2 L1252.5,2585.6 L1254.4,2585.0 L1256.4,2584.4 L1258.3,2583.9 L1260.2,2583.3 L1262.1,2582.7 L1264.0,2582.1 L1265.9,2581.5 L1267.8,2580.9 L1269.7,2580.3 L1271.7,2579.7 L1273.6,2579.2 L1275.5,2578.6 L1277.4,2578.0 L1279.3,2577.4 L1281.2,2576.8 L1283.1,2576.2 L1285.0,2575.6 L1286.9,2575.0 L1288.9,2574.4 L1290.8,2573.9 L1292.7,2573.2 L1294.8,2572.6 L1296.8,2572.0 L1298.9,2571.4 L1300.9,2570.7 L1302.8,2570.1 L1304.7,2569.5 L1306.6,2569.0 L1308.4,2568.4 L1310.2,2567.8 L1312.1,2567.3 L1313.9,2566.7 L1315.8,2566.1 L1317.6,2565.5 L1319.5,2564.9 L1321.4,2564.4 L1323.3,2563.8 L1325.2,2563.2 L1327.1,2562.6 L1329.0,2562.0 L1330.9,2561.4 L1332.8,2560.8 L1334.7,2560.2 L1336.6,2559.6 L1338.5,2559.0 L1340.4,2558.4 L1342.3,2557.8 L1344.2,2557.2 L1346.2,2556.6 L1348.1,2556.0 L1350.0,2555.4 L1351.9,2554.8 L1353.8,2554.3 L1355.7,2553.7 L1357.6,2553.1 L1359.5,2552.5 L1361.4,2551.9 L1363.3,2551.3 L1365.2,2550.7 L1367.1,2550.1 L1369.1,2549.5 L1371.0,2548.9 L1372.9,2548.3 L1374.8,2547.7 L1376.7,2547.1 L1378.6,2546.5 L1380.5,2545.9 L1382.4,2545.3 L1384.3,2544.7 L1386.2,2544.1 L1388.1,2543.5 L1390.0,2542.9 L1392.0,2542.3 L1393.9,2541.7 L1395.8,2541.1 L1397.7,2540.5 L1399.6,2539.9 L1401.5,2539.3 L1403.4,2538.7 L1405.3,2538.1 L1407.2,2537.5 L1409.1,2536.9 L1411.0,2536.3 L1412.9,2535.7 L1414.9,2535.1 L1416.8,2534.5 L1418.7,2533.9 L1420.6,2533.3 L1422.5,2532.7 L1424.4,2532.1 L1426.3,2531.5 L1428.2,2530.9 L1430.1,2530.3 L1432.0,2529.7 L1433.9,2529.1 L1435.8,2528.5 L1437.7,2527.9 L1439.7,2527.3 L1441.6,2526.7 L1443.5,2526.1 L1445.4,2525.5 L1447.3,2524.9 L1449.2,2524.3 L1451.1,2523.7 L1453.0,2523.1 L1454.9,2522.5 L1456.8,2521.9 L1458.7,2521.3 L1460.6,2520.7 L1462.5,2520.0 L1464.4,2519.4 L1466.4,2518.8 L1468.3,2518.2 L1470.2,2517.6 L1472.1,2517.0 L1474.0,2516.4 L1475.9,2515.8 L1477.8,2515.2 L1479.7,2514.6 L1481.6,2514.0 L1483.5,2513.4 L1485.4,2512.8 L1487.3,2512.2 L1489.2,2511.6 L1491.1,2511.0 L1493.0,2510.4 L1494.9,2509.8 L1496.8,2509.1 L1498.7,2508.5 L1500.7,2507.9 L1502.6,2507.3 L1504.5,2506.7 L1506.4,2506.1 L1508.3,2505.5 L1510.2,2504.8 L1512.1,2504.2 L1514.0,2503.6 L1515.9,2503.0 L1517.8,2502.4 L1519.7,2501.7 L1521.6,2501.1 L1523.5,2500.5 L1525.4,2499.9 L1527.3,2499.3 L1529.2,2498.6 L1531.1,2498.0 L1533.0,2497.4 L1534.9,2496.8 L1536.8,2496.2 L1538.7,2495.5 L1540.6,2494.9 L1542.5,2494.3 L1544.4,2493.7 L1546.3,2493.0 L1548.2,2492.4 L1550.1,2491.8 L1552.0,2491.2 L1553.9,2490.5 L1555.8,2489.9 L1557.7,2489.3 L1559.6,2488.7 L1561.5,2488.0 L1563.4,2487.4 L1565.3,2486.8 L1567.2,2486.2 L1569.1,2485.5 L1571.0,2484.9 L1572.9,2484.3 L1574.8,2483.6 L1576.7,2483.0 L1578.6,2482.4 L1580.5,2481.8 L1582.4,2481.1 L1584.3,2480.5 L1586.2,2479.9 L1588.1,2479.2 L1590.0,2478.6 L1591.9,2478.0 L1593.8,2477.3 L1595.7,2476.7 L1597.6,2476.1 L1599.5,2475.4 L1601.3,2474.8 L1603.2,2474.2 L1605.1,2473.5 L1607.0,2472.9 L1608.9,2472.3 L1610.8,2471.6 L1612.7,2471.0 L1614.6,2470.4 L1616.5,2469.7 L1618.4,2469.1 L1620.3,2468.5 L1622.2,2467.8 L1624.1,2467.2 L1626.0,2466.5 L1627.9,2465.9 L1629.8,2465.3 L1631.7,2464.6 L1633.6,2464.0 L1635.5,2463.3 L1637.4,2462.7 L1639.3,2462.0 L1641.2,2461.4 L1643.0,2460.8 L1644.9,2460.1 L1646.8,2459.5 L1648.7,2458.8 L1650.6,2458.2 L1652.5,2457.5 L1654.4,2456.9 L1656.3,2456.2 L1658.2,2455.6 L1660.1,2454.9 L1662.0,2454.3 L1663.9,2453.6 L1665.7,2453.0 L1667.6,2452.3 L1669.5,2451.7 L1671.4,2451.0 L1673.3,2450.4 L1675.2,2449.7 L1677.1,2449.1 L1679.0,2448.4 L1680.9,2447.7 L1682.8,2447.1 L1684.6,2446.4 L1686.5,2445.8 L1688.4,2445.1 L1690.3,2444.4 L1692.2,2443.8 L1694.1,2443.1 L1696.0,2442.5 L1697.9,2441.8 L1699.7,2441.1 L1701.6,2440.5 L1703.5,2439.8 L1705.4,2439.1 L1707.3,2438.5 L1709.2,2437.8 L1711.1,2437.1 L1712.9,2436.4 L1714.8,2435.8 L1716.7,2435.1 L1718.6,2434.4 L1720.5,2433.8 L1722.4,2433.1 L1724.2,2432.4 L1726.1,2431.7 L1728.0,2431.0 L1729.9,2430.4 L1731.8,2429.7 L1733.6,2429.0 L1735.5,2428.3 L1737.4,2427.6 L1739.3,2426.9 L1741.2,2426.3 L1743.0,2425.6 L1744.9,2424.9 L1746.8,2424.2 L1748.7,2423.5 L1750.5,2422.8 L1752.4,2422.1 L1754.3,2421.4 L1756.2,2420.7 L1758.0,2420.0 L1759.9,2419.3 L1761.8,2418.6 L1763.7,2417.9 L1765.5,2417.2 L1767.4,2416.5 L1769.3,2415.8 L1771.2,2415.1 L1773.0,2414.4 L1774.9,2413.7 L1776.8,2413.0 L1778.6,2412.3 L1780.5,2411.6 L1782.4,2410.9 L1784.2,2410.2 L1786.1,2409.5 L1788.0,2408.7 L1789.8,2408.0 L1791.7,2407.3 L1793.6,2406.6 L1795.4,2405.9 L1797.3,2405.1 L1799.2,2404.4 L1801.0,2403.7 L1802.9,2403.0 L1804.8,2402.2 L1806.6,2401.5 L1808.5,2400.8 L1810.3,2400.0 L1812.2,2399.3 L1814.1,2398.6 L1815.9,2397.8 L1817.8,2397.1 L1819.6,2396.4 L1821.5,2395.6 L1823.4,2394.9 L1825.2,2394.1 L1827.1,2393.4 L1828.9,2392.6 L1830.8,2391.9 L1832.6,2391.1 L1834.5,2390.4 L1836.3,2389.6 L1838.2,2388.9 L1840.0,2388.1 L1841.9,2387.3 L1843.7,2386.6 L1845.6,2385.8 L1847.4,2385.1 L1849.3,2384.3 L1851.1,2383.5 L1853.0,2382.8 L1854.8,2382.0 L1856.7,2381.2 L1858.5,2380.4 L1860.4,2379.7 L1862.2,2378.9 L1864.0,2378.1 L1865.9,2377.3 L1867.7,2376.5 L1869.6,2375.7 L1871.4,2375.0 L1873.2,2374.2 L1875.1,2373.4 L1876.9,2372.6 L1878.7,2371.8 L1880.6,2371.0 L1882.4,2370.2 L1884.2,2369.4 L1886.1,2368.6 L1887.9,2367.8 L1889.7,2367.0 L1891.6,2366.2 L1893.4,2365.4 L1895.2,2364.5 L1897.0,2363.7 L1898.9,2362.9 L1900.7,2362.1 L1902.5,2361.3 L1904.3,2360.4 L1906.2,2359.6 L1908.0,2358.8 L1909.8,2357.9 L1911.6,2357.1 L1913.4,2356.2 L1915.2,2355.4 L1917.1,2354.5 L1918.9,2353.7 L1920.7,2352.8 L1922.4,2352.0 L1924.2,2351.1 L1926.0,2350.3 L1927.8,2349.4 L1929.5,2348.6 L1931.3,2347.7 L1933.0,2346.9 L1934.7,2346.0 L1936.5,2345.0 L1938.3,2344.1 L1940.1,2343.1 L1942.0,2342.1 L1944.0,2341.2 L1945.9,2340.3 L1947.9,2339.5 L1949.8,2338.8 L1951.7,2338.2 L1953.6,2337.8 L1955.5,2337.5 L1957.4,2337.3 L1959.4,2337.1 L1961.4,2337.0 L1963.4,2336.9 L1965.4,2336.9 L1967.5,2336.8 L1969.5,2336.7 L1971.5,2336.5 L1973.4,2336.3 L1975.3,2336.0 L1977.2,2335.5 L1979.1,2335.0 L1980.9,2334.3 L1982.8,2333.4 L1984.8,2332.5 L1986.8,2331.6 L1988.7,2330.6 L1990.7,2329.7 L1992.5,2328.8 L1994.4,2328.1 L1996.2,2327.3 L1998.0,2326.6 L1999.8,2326.0 L2001.6,2325.3 L2003.4,2324.6 L2005.2,2323.9 L2007.0,2323.2 L2008.9,2322.4 L2010.7,2321.7 L2012.5,2320.9 L2014.4,2320.2 L2016.2,2319.4 L2018.0,2318.6 L2019.8,2317.8 L2021.7,2317.0 L2023.5,2316.2 L2025.3,2315.3 L2027.1,2314.5 L2028.9,2313.6 L2030.7,2312.7 L2032.4,2311.8 L2034.2,2310.9 L2036.0,2310.0 L2037.8,2309.1 L2039.5,2308.2 L2041.3,2307.2 L2043.1,2306.3 L2044.9,2305.4 L2046.6,2304.4 L2048.4,2303.5 L2050.2,2302.6 L2052.0,2301.7 L2053.7,2300.8 L2055.5,2299.9 L2057.3,2299.0 L2059.1,2298.1 L2060.9,2297.2 L2062.7,2296.4 L2064.5,2295.5 L2066.3,2294.7 L2068.2,2293.8 L2070.0,2293.0 L2071.8,2292.2 L2073.6,2291.4 L2075.5,2290.6 L2077.3,2289.8 L2079.1,2289.1 L2081.0,2288.3 L2082.8,2287.5 L2084.7,2286.8 L2086.5,2286.0 L2088.3,2285.3 L2090.1,2284.6 L2091.9,2283.9 L2093.7,2283.1 L2095.5,2282.4 L2097.3,2281.7 L2099.0,2281.0 L2100.8,2280.3 L2102.6,2279.6 L2104.5,2278.8 L2106.4,2278.1 L2108.3,2277.3 L2110.3,2276.5 L2112.3,2275.7 L2114.3,2274.9 L2115.3,2274.5" stroke="#FB46A6"/>
<path d="M205.0,3540.5 L207.0,3540.5 L209.0,3540.5 L211.0,3540.5 L213.0,3540.5 L215.0,3540.5 L217.0,3540.5 L219.0,3540.5 L221.0,3540.5 L223.0,3540.5 L225.0,3540.5 L227.0,3540.5 L229.0,3540.5 L231.0,3540.5 L233.0,3540.5 L235.0,3540.5 L237.0,3540.5 L239.0,3540.5 L241.0,3540.5 L243.0,3540.5 L245.0,3540.5 L247.0,3540.5 L249.0,3540.5 L251.0,3540.5 L253.0,3540.5 L255.0,3540.5 L257.0,3540.5 L259.0,3540.5 L261.0,3540.5 L263.0,3540.5 L265.0,3540.5 L267.0,3540.5 L269.0,3540.5 L271.0,3540.5 L273.0,3540.5 L275.0,3540.5 L277.0,3540.5 L279.0,3540.5 L281.0,3540.5 L283.0,3540.5 L285.0,3540.5 L287.0,3540.5 L289.0,3540.5 L291.0,3540.5 L293.0,3540.5 L295.0,3540.5 L297.0,3540.5 L299.0,3540.5 L301.0,3540.5 L303.0,3540.5 L305.0,3540.5 L307.0,3540.5 L309.0,3540.5 L311.0,3540.5 L313.0,3540.5 L315.0,3540.5 L317.0,3540.5 L319.0,3540.5 L321.0,3540.5 L323.0,3540.5 L325.0,3540.5 L327.0,3540.5 L329.0,3540.5 L331.0,3540.5 L333.0,3540.5 L335.0,3540.5 L337.0,3540.5 L339.0,3540.5 L341.0,3540.5 L343.0,3540.5 L345.0,3540.5 L347.0,3540.5 L349.0,3540.5 L351.0,3540.5 L353.0,3540.5 L355.0,3540.5 L357.0,3540.5 L359.0,3540.5 L361.0,3540.5 L363.0,3540.5 L365.0,3540.5 L367.0,3540.5 L369.0,3540.5 L371.0,3540.5 L373.0,3540.5 L375.0,3540.5 L377.0,3540.5 L379.0,3540.5 L381.0,3540.5 L383.0,3540.5 L385.0,3540.5 L387.0,3540.5 L389.0,3540.5 L391.0,3540.5 L393.0,3540.5 L395.0,3540.5 L397.0,3540.5 L399.0,3540.5 L401.0,3540.5 L403.0,3540.5 L405.0,3540.5 L407.0,3540.5 L409.0,3540.5 L411.0,3540.5 L413.0,3540.5 L415.0,3540.5 L417.0,3540.5 L419.0,3540.5 L421.0,3540.5 L423.0,3540.5 L425.0,3540.5 L427.0,3540.5 L429.0,3540.5 L431.0,3540.5 L433.0,3540.5 L435.0,3540.5 L437.0,3540.5 L439.0,3540.5 L441.0,3540.5 L443.0,3540.4 L445.1,3540.4 L447.3,3540.4 L449.4,3540.4 L451.6,3540.3 L453.7,3540.3 L455.9,3540.2 L458.0,3540.2 L460.1,3540.1 L462.2,3540.1 L464.2,3540.0 L466.3,3539.9 L468.3,3539.8 L470.3,3539.7 L472.2,3539.6 L474.2,3539.5 L476.1,3539.3 L478.0,3539.2 L480.0,3539.0 L481.9,3538.8 L483.8,3538.6 L485.7,3538.5 L487.6,3538.3 L489.5,3538.1 L491.4,3538.0 L493.4,3537.8 L495.3,3537.6 L497.2,3537.5 L499.2,3537.3 L501.1,3537.1 L503.1,3536.9 L505.0,3536.8 L507.0,3536.6 L508.9,3536.4 L510.9,3536.2 L512.9,3536.0 L514.9,3535.8 L516.8,3535.6 L518.8,3535.4 L520.8,3535.2 L522.8,3534.9 L524.7,3534.7 L526.7,3534.5 L528.7,3534.2 L530.7,3534.0 L532.7,3533.7 L534.6,3533.5 L536.6,3533.2 L538.6,3533.0 L540.6,3532.7 L542.6,3532.4 L544.5,3532.1 L546.5,3531.8 L548.5,3531.5 L550.5,3531.2 L552.4,3530.9 L554.4,3530.6 L556.4,3530.3 L558.3,3529.9 L560.3,3529.6 L562.3,3529.3 L564.2,3528.9 L566.2,3528.5 L568.2,3528.2 L570.1,3527.8 L572.1,3527.4 L574.0,3527.0 L576.0,3526.6 L577.9,3526.1 L579.9,3525.7 L581.8,3525.3 L583.8,3524.8 L585.7,3524.4 L587.7,3523.9 L589.6,3523.4 L591.5,3522.9 L593.4,3522.4 L595.4,3521.9 L597.3,3521.4 L599.2,3520.9 L601.1,3520.3 L603.1,3519.8 L605.0,3519.2 L606.9,3518.6 L608.8,3518.0 L610.7,3517.4 L612.6,3516.8 L614.5,3516.2 L616.4,3515.6 L618.3,3514.9 L620.1,3514.3 L622.0,3513.6 L623.9,3513.0 L625.8,3512.3 L627.6,3511.6 L629.5,3510.9 L631.4,3510.2 L633.2,3509.5 L635.1,3508.7 L636.9,3508.0 L638.8,3507.3 L640.6,3506.5 L642.5,3505.7 L644.3,3505.0 L646.2,3504.2 L648.0,3503.4 L649.8,3502.6 L651.7,3501.8 L653.5,3501.0 L655.3,3500.2 L657.1,3499.4 L659.0,3498.5 L660.8,3497.7 L662.6,3496.9 L664.4,3496.0 L666.2,3495.2 L668.0,3494.3 L669.8,3493.5 L671.6,3492.6 L673.4,3491.7 L675.2,3490.8 L677.0,3490.0 L678.8,3489.1 L680.6,3488.2 L682.4,3487.3 L684.2,3486.4 L686.0,3485.5 L687.7,3484.6 L689.5,3483.7 L691.3,3482.8 L693.1,3481.9 L694.9,3480.9 L696.6,3480.0 L698.4,3479.1 L700.2,3478.2 L701.9,3477.2 L703.7,3476.3 L705.5,3475.4 L707.3,3474.4 L709.0,3473.5 L710.8,3472.6 L712.5,3471.6 L714.3,3470.7 L716.1,3469.7 L717.8,3468.8 L719.6,3467.8 L721.3,3466.9 L723.1,3465.9 L724.9,3464.9 L726.6,3464.0 L728.4,3463.0 L730.1,3462.0 L731.9,3461.1 L733.6,3460.1 L735.4,3459.1 L737.1,3458.2 L738.8,3457.2 L740.6,3456.2 L742.3,3455.2 L744.1,3454.2 L745.8,3453.3 L747.6,3452.3 L749.3,3451.3 L751.0,3450.3 L752.8,3449.3 L754.5,3448.3 L756.2,3447.3 L758.0,3446.3 L759.7,3445.3 L761.4,3444.3 L763.2,3443.3 L764.9,3442.3 L766.6,3441.3 L768.4,3440.3 L770.1,3439.3 L771.8,3438.3 L773.5,3437.3 L775.3,3436.3 L777.0,3435.3 L778.7,3434.3 L780.4,3433.2 L782.2,3432.2 L783.9,3431.2 L785.6,3430.2 L787.3,3429.2 L789.1,3428.2 L790.8,3427.2 L792.5,3426.2 L794.2,3425.1 L796.0,3424.1 L797.7,3423.1 L799.4,3422.1 L801.1,3421.1 L802.9,3420.1 L804.6,3419.1 L806.3,3418.1 L808.0,3417.1 L809.8,3416.0 L811.5,3415.0 L813.2,3414.0 L815.0,3413.0 L816.7,3412.0 L818.4,3411.0 L820.1,3410.0 L821.9,3409.0 L823.6,3408.0 L825.3,3407.0 L827.1,3406.0 L828.8,3405.0 L830.5,3404.0 L832.3,3403.0 L834.0,3402.0 L835.7,3401.0 L837.5,3400.0 L839.2,3399.0 L841.0,3398.1 L842.7,3397.1 L844.4,3396.1 L846.2,3395.1 L847.9,3394.1 L849.6,3393.1 L851.4,3392.1 L853.1,3391.1 L854.9,3390.2 L856.6,3389.2 L858.3,3388.2 L860.1,3387.2 L861.8,3386.2 L863.6,3385.2 L865.3,3384.3 L867.1,3383.3 L868.8,3382.3 L870.5,3381.3 L872.3,3380.3 L874.0,3379.3 L875.8,3378.4 L877.5,3377.4 L879.3,3376.4 L881.0,3375.4 L882.7,3374.4 L884.5,3373.4 L886.2,3372.5 L888.0,3371.5 L889.7,3370.5 L891.4,3369.5 L893.2,3368.5 L894.9,3367.6 L896.7,3366.6 L898.4,3365.6 L900.2,3364.6 L901.9,3363.6 L903.6,3362.6 L905.4,3361.6 L907.1,3360.7 L908.9,3359.7 L910.6,3358.7 L912.3,3357.7 L914.1,3356.7 L915.8,3355.7 L917.6,3354.8 L919.3,3353.8 L921.0,3352.8 L922.8,3351.8 L924.5,3350.8 L926.3,3349.8 L928.0,3348.9 L929.8,3347.9 L931.5,3346.9 L933.2,3345.9 L935.0,3344.9 L936.7,3343.9 L938.5,3343.0 L940.2,3342.0 L942.0,3341.0 L943.7,3340.0 L945.4,3339.0 L947.2,3338.1 L948.9,3337.1 L950.7,3336.1 L952.4,3335.1 L954.2,3334.1 L955.9,3333.2 L957.6,3332.2 L959.4,3331.2 L961.1,3330.2 L962.9,3329.3 L964.6,3328.3 L966.4,3327.3 L968.1,3326.3 L969.9,3325.3 L971.6,3324.4 L973.3,3323.4 L975.1,3322.4 L976.8,3321.4 L978.6,3320.4 L980.3,3319.4 L982.0,3318.5 L983.8,3317.5 L985.5,3316.5 L987.3,3315.5 L989.0,3314.5 L990.8,3313.5 L992.5,3312.5 L994.2,3311.6 L996.0,3310.6 L997.7,3309.6 L999.4,3308.6 L1001.2,3307.6 L1002.9,3306.6 L1004.7,3305.6 L1006.4,3304.6 L1008.1,3303.6 L1009.9,3302.6 L1011.6,3301.6 L1013.3,3300.6 L1015.1,3299.6 L1016.8,3298.6 L1018.5,3297.6 L1020.3,3296.6 L1022.0,3295.7 L1023.7,3294.7 L1025.5,3293.6 L1027.2,3292.6 L1028.9,3291.6 L1030.7,3290.6 L1032.4,3289.6 L1034.1,3288.6 L1035.8,3287.6 L1037.6,3286.6 L1039.3,3285.6 L1041.0,3284.6 L1042.8,3283.6 L1044.5,3282.6 L1046.2,3281.6 L1047.9,3280.6 L1049.7,3279.6 L1051.4,3278.6 L1053.1,3277.6 L1054.9,3276.6 L1056.6,3275.6 L1058.3,3274.5 L1060.0,3273.5 L1061.8,3272.5 L1063.5,3271.5 L1065.2,3270.5 L1066.9,3269.5 L1068.7,3268.5 L1070.4,3267.5 L1072.1,3266.5 L1073.8,3265.5 L1075.6,3264.5 L1077.3,3263.4 L1079.0,3262.4 L1080.8,3261.4 L1082.5,3260.4 L1084.2,3259.4 L1085.9,3258.4 L1087.7,3257.4 L1089.4,3256.4 L1091.1,3255.4 L1092.8,3254.4 L1094.6,3253.4 L1096.3,3252.4 L1098.0,3251.4 L1099.8,3250.3 L1101.5,3249.3 L1103.2,3248.3 L1105.0,3247.3 L1106.7,3246.3 L1108.4,3245.3 L1110.1,3244.3 L1111.9,3243.3 L1113.6,3242.3 L1115.3,3241.3 L1117.1,3240.3 L1118.8,3239.3 L1120.5,3238.3 L1122.3,3237.3 L1124.0,3236.3 L1125.7,3235.4 L1127.5,3234.4 L1129.2,3233.4 L1130.9,3232.4 L1132.7,3231.4 L1134.4,3230.4 L1136.1,3229.4 L1137.9,3228.4 L1139.6,3227.4 L1141.4,3226.4 L1143.1,3225.4 L1144.8,3224.4 L1146.6,3223.4 L1148.3,3222.4 L1150.0,3221.4 L1151.8,3220.4 L1153.5,3219.4 L1155.2,3218.4 L1157.0,3217.4 L1158.7,3216.4 L1160.4,3215.4 L1162.2,3214.4 L1163.9,3213.5 L1165.6,3212.5 L1167.4,3211.5 L1169.1,3210.5 L1170.8,3209.5 L1172.6,3208.5 L1174.3,3207.5 L1176.0,3206.5 L1177.8,3205.5 L1179.5,3204.5 L1181.2,3203.5 L1183.0,3202.5 L1184.7,3201.5 L1186.4,3200.5 L1188.2,3199.5 L1189.9,3198.5 L1191.6,3197.5 L1193.4,3196.5 L1195.1,3195.5 L1196.8,3194.5 L1198.6,3193.5 L1200.3,3192.5 L1202.0,3191.5 L1203.7,3190.5 L1205.5,3189.5 L1207.2,3188.5 L1208.9,3187.5 L1210.7,3186.5 L1212.4,3185.5 L1214.1,3184.5 L1215.9,3183.4 L1217.6,3182.4 L1219.3,3181.4 L1221.1,3180.4 L1222.8,3179.4 L1224.5,3178.4 L1226.2,3177.4 L1228.0,3176.4 L1229.7,3175.4 L1231.4,3174.4 L1233.2,3173.4 L1234.9,3172.4 L1236.6,3171.4 L1238.4,3170.4 L1240.1,3169.4 L1241.8,3168.4 L1243.5,3167.4 L1245.3,3166.4 L1247.0,3165.4 L1248.7,3164.4 L1250.5,3163.4 L1252.2,3162.4 L1253.9,3161.4 L1255.6,3160.4 L1257.4,3159.3 L1259.1,3158.3 L1260.8,3157.3 L1262.6,3156.3 L1264.3,3155.3 L1266.0,3154.3 L1267.7,3153.3 L1269.5,3152.3 L1271.2,3151.3 L1272.9,3150.3 L1274.7,3149.3 L1276.4,3148.3 L1278.1,3147.3 L1279.8,3146.3 L1281.6,3145.3 L1283.3,3144.3 L1285.0,3143.3 L1286.8,3142.3 L1288.5,3141.2 L1290.2,3140.2 L1292.0,3139.2 L1293.7,3138.2 L1295.4,3137.2 L1297.1,3136.2 L1298.9,3135.2 L1300.6,3134.2 L1302.3,3133.2 L1304.1,3132.2 L1305.8,3131.2 L1307.5,3130.2 L1309.2,3129.2 L1311.0,3128.2 L1312.7,3127.2 L1314.4,3126.2 L1316.2,3125.2 L1317.9,3124.2 L1319.6,3123.1 L1321.3,3122.1 L1323.1,3121.1 L1324.8,3120.1 L1326.5,3119.1 L1328.3,3118.1 L1330.0,3117.1 L1331.7,3116.1 L1333.4,3115.1 L1335.2,3114.1 L1336.9,3113.1 L1338.6,3112.1 L1340.4,3111.1 L1342.1,3110.1 L1343.8,3109.1 L1345.6,3108.1 L1347.3,3107.1 L1349.0,3106.1 L1350.7,3105.1 L1352.5,3104.1 L1354.2,3103.1 L1355.9,3102.1 L1357.7,3101.1 L1359.4,3100.1 L1361.1,3099.1 L1362.9,3098.0 L1364.6,3097.0 L1366.3,3096.0 L1368.0,3095.0 L1369.8,3094.0 L1371.5,3093.0 L1373.2,3092.0 L1375.0,3091.0 L1376.7,3090.0 L1378.4,3089.0 L1380.2,3088.0 L1381.9,3087.0 L1383.6,3086.0 L1385.4,3085.0 L1387.1,3084.0 L1388.8,3083.0 L1390.6,3082.0 L1392.3,3081.0 L1394.0,3080.0 L1395.7,3079.0 L1397.5,3078.0 L1399.2,3077.0 L1400.9,3076.0 L1402.7,3075.0 L1404.4,3074.0 L1406.1,3073.0 L1407.9,3072.0 L1409.6,3071.0 L1411.3,3070.0 L1413.1,3069.0 L1414.8,3068.0 L1416.5,3067.0 L1418.3,3066.0 L1420.0,3065.0 L1421.7,3064.0 L1423.5,3063.0 L1425.2,3062.0 L1426.9,3061.0 L1428.7,3060.0 L1430.4,3059.0 L1432.1,3058.0 L1433.9,3057.0 L1435.6,3056.0 L1437.3,3055.0 L1439.1,3054.0 L1440.8,3053.1 L1442.5,3052.1 L1444.3,3051.1 L1446.0,3050.1 L1447.7,3049.1 L1449.5,3048.1 L1451.2,3047.1 L1452.9,3046.1 L1454.7,3045.1 L1456.4,3044.1 L1458.1,3043.1 L1459.9,3042.1 L1461.6,3041.1 L1463.4,3040.1 L1465.1,3039.1 L1466.8,3038.1 L1468.6,3037.1 L1470.3,3036.1 L1472.0,3035.2 L1473.8,3034.2 L1475.5,3033.2 L1477.2,3032.2 L1479.0,3031.2 L1480.7,3030.2 L1482.5,3029.2 L1484.2,3028.2 L1485.9,3027.2 L1487.7,3026.2 L1489.4,3025.2 L1491.1,3024.3 L1492.9,3023.3 L1494.6,3022.3 L1496.4,3021.3 L1498.1,3020.3 L1499.8,3019.3 L1501.6,3018.3 L1503.3,3017.3 L1505.1,3016.3 L1506.8,3015.4 L1508.5,3014.4 L1510.3,3013.4 L1512.0,3012.4 L1513.8,3011.4 L1515.5,3010.4 L1517.2,3009.4 L1519.0,3008.5 L1520.7,3007.5 L1522.5,3006.5 L1524.2,3005.5 L1525.9,3004.5 L1527.7,3003.5 L1529.4,3002.6 L1531.2,3001.6 L1532.9,3000.6 L1534.7,2999.6 L1536.4,2998.6 L1538.1,2997.7 L1539.9,2996.7 L1541.6,2995.7 L1543.4,2994.7 L1545.1,2993.7 L1546.9,2992.7 L1548.6,2991.8 L1550.3,2990.8 L1552.1,2989.8 L1553.8,2988.8 L1555.6,2987.9 L1557.3,2986.9 L1559.1,2985.9 L1560.8,2984.9 L1562.6,2983.9 L1564.3,2983.0 L1566.0,2982.0 L1567.8,2981.0 L1569.5,2980.0 L1571.3,2979.1 L1573.0,2978.1 L1574.8,2977.1 L1576.5,2976.1 L1578.3,2975.2 L1580.0,2974.2 L1581.8,2973.2 L1583.5,2972.2 L1585.3,2971.3 L1587.0,2970.3 L1588.8,2969.3 L1590.5,2968.4 L1592.2,2967.4 L1594.0,2966.4 L1595.7,2965.4 L1597.5,2964.5 L1599.2,2963.5 L1601.0,2962.5 L1602.7,2961.6 L1604.5,2960.6 L1606.2,2959.6 L1608.0,2958.7 L1609.7,2957.7 L1611.5,2956.7 L1613.2,2955.7 L1615.0,2954.8 L1616.7,2953.8 L1618.5,2952.8 L1620.2,2951.9 L1622.0,2950.9 L1623.7,2950.0 L1625.5,2949.0 L1627.2,2948.0 L1629.0,2947.1 L1630.8,2946.1 L1632.5,2945.1 L1634.3,2944.2 L1636.0,2943.2 L1637.8,2942.2 L1639.5,2941.3 L1641.3,2940.3 L1643.0,2939.4 L1644.8,2938.4 L1646.5,2937.4 L1648.3,2936.5 L1650.0,2935.5 L1651.8,2934.5 L1653.5,2933.6 L1655.3,2932.6 L1657.1,2931.7 L1658.8,2930.7 L1660.6,2929.7 L1662.3,2928.8 L1664.1,2927.8 L1665.8,2926.9 L1667.6,2925.9 L1669.3,2925.0 L1671.1,2924.0 L1672.9,2923.0 L1674.6,2922.1 L1676.4,2921.1 L1678.1,2920.2 L1679.9,2919.2 L1681.6,2918.2 L1683.4,2917.3 L1685.1,2916.3 L1686.9,2915.4 L1688.7,2914.4 L1690.4,2913.5 L1692.2,2912.5 L1693.9,2911.5 L1695.7,2910.6 L1697.4,2909.6 L1699.2,2908.7 L1701.0,2907.7 L1702.7,2906.8 L1704.5,2905.8 L1706.2,2904.8 L1708.0,2903.9 L1709.7,2902.9 L1711.5,2902.0 L1713.2,2901.0 L1715.0,2900.1 L1716.8,2899.1 L1718.5,2898.1 L1720.3,2897.2 L1722.0,2896.2 L1723.8,2895.3 L1725.5,2894.3 L1727.3,2893.4 L1729.0,2892.4 L1730.8,2891.5 L1732.6,2890.5 L1734.3,2889.5 L1736.1,2888.6 L1737.8,2887.6 L1739.6,2886.7 L1741.3,2885.7 L1743.1,2884.8 L1744.9,2883.8 L1746.6,2882.8 L1748.4,2881.9 L1750.1,2880.9 L1751.9,2880.0 L1753.6,2879.0 L1755.4,2878.1 L1757.2,2877.1 L1758.9,2876.2 L1760.7,2875.2 L1762.4,2874.3 L1764.2,2873.3 L1766.0,2872.4 L1767.7,2871.4 L1769.5,2870.5 L1771.2,2869.5 L1773.0,2868.6 L1774.7,2867.6 L1776.5,2866.7 L1778.3,2865.7 L1780.0,2864.8 L1781.8,2863.8 L1783.5,2862.9 L1785.3,2861.9 L1787.1,2861.0 L1788.8,2860.0 L1790.6,2859.1 L1792.4,2858.1 L1794.1,2857.2 L1795.9,2856.2 L1797.6,2855.3 L1799.4,2854.3 L1801.2,2853.4 L1802.9,2852.4 L1804.7,2851.5 L1806.4,2850.5 L1808.2,2849.6 L1810.0,2848.6 L1811.7,2847.7 L1813.5,2846.7 L1815.3,2845.8 L1817.0,2844.9 L1818.8,2843.9 L1820.5,2843.0 L1822.3,2842.0 L1824.1,2841.1 L1825.8,2840.1 L1827.6,2839.2 L1829.4,2838.3 L1831.1,2837.3 L1832.9,2836.4 L1834.7,2835.4 L1836.4,2834.5 L1838.2,2833.5 L1839.9,2832.6 L1841.7,2831.7 L1843.5,2830.7 L1845.2,2829.8 L1847.0,2828.8 L1848.8,2827.9 L1850.5,2827.0 L1852.3,2826.0 L1854.1,2825.1 L1855.8,2824.1 L1857.6,2823.2 L1859.4,2822.3 L1861.1,2821.3 L1862.9,2820.4 L1864.7,2819.4 L1866.4,2818.5 L1868.2,2817.6 L1870.0,2816.6 L1871.7,2815.7 L1873.5,2814.7 L1875.3,2813.8 L1877.0,2812.9 L1878.8,2811.9 L1880.6,2811.0 L1882.3,2810.1 L1884.1,2809.1 L1885.9,2808.2 L1887.6,2807.2 L1889.4,2806.3 L1891.2,2805.4 L1892.9,2804.4 L1894.7,2803.5 L1896.5,2802.6 L1898.2,2801.6 L1900.0,2800.7 L1901.8,2799.7 L1903.5,2798.8 L1905.3,2797.9 L1907.1,2796.9 L1908.8,2796.0 L1910.6,2795.1 L1912.4,2794.1 L1914.1,2793.2 L1915.9,2792.3 L1917.7,2791.3 L1919.4,2790.4 L1921.2,2789.5 L1923.0,2788.5 L1924.7,2787.6 L1926.5,2786.7 L1928.3,2785.7 L1930.0,2784.8 L1931.8,2783.9 L1933.6,2782.9 L1935.4,2782.0 L1937.1,2781.0 L1938.9,2780.1 L1940.7,2779.2 L1942.4,2778.2 L1944.2,2777.3 L1946.0,2776.4 L1947.7,2775.4 L1949.5,2774.5 L1951.3,2773.6 L1953.0,2772.6 L1954.8,2771.7 L1956.6,2770.8 L1958.3,2769.8 L1960.1,2768.9 L1961.9,2768.0 L1963.6,2767.0 L1965.4,2766.1 L1967.2,2765.2 L1969.0,2764.2 L1970.7,2763.3 L1972.5,2762.4 L1974.3,2761.4 L1976.0,2760.5 L1977.8,2759.6 L1979.6,2758.6 L1981.3,2757.7 L1983.1,2756.8 L1984.9,2755.8 L1986.6,2754.9 L1988.4,2754.0 L1990.2,2753.0 L1991.9,2752.1 L1993.7,2751.2 L1995.5,2750.2 L1997.3,2749.3 L1999.0,2748.4 L2000.8,2747.4 L2002.6,2746.5 L2004.3,2745.6 L2006.1,2744.6 L2007.9,2743.7 L2009.6,2742.8 L2011.4,2741.8 L2013.2,2740.9 L2014.9,2740.0 L2016.7,2739.0 L2018.5,2738.1 L2020.2,2737.2 L2022.0,2736.2 L2023.8,2735.3 L2025.5,2734.4 L2027.3,2733.4 L2029.1,2732.5 L2030.8,2731.5 L2032.6,2730.6 L2034.4,2729.7 L2036.1,2728.7 L2037.9,2727.8 L2039.7,2726.9 L2041.4,2725.9 L2043.2,2725.0 L2045.0,2724.1 L2046.7,2723.1 L2048.5,2722.2 L2050.2,2721.3 L2052.0,2720.3 L2053.8,2719.4 L2055.5,2718.5 L2057.2,2717.6 L2059.0,2716.6 L2060.7,2715.7 L2062.5,2714.8 L2064.2,2713.9 L2065.9,2713.0 L2067.6,2712.0 L2069.3,2711.1 L2071.0,2710.2 L2072.7,2709.3 L2074.4,2708.4 L2076.1,2707.5 L2077.8,2706.6 L2079.5,2705.7 L2081.2,2704.8 L2082.9,2703.9 L2084.6,2703.0 L2086.3,2702.1 L2088.0,2701.2 L2089.8,2700.3 L2091.5,2699.3 L2093.3,2698.4 L2095.0,2697.5 L2096.8,2696.5 L2098.7,2695.5 L2100.5,2694.5 L2102.4,2693.5 L2104.2,2692.5 L2106.1,2691.5 L2108.0,2690.5 L2109.9,2689.5 L2111.8,2688.5 L2113.7,2687.5 L2115.6,2686.5 L2116.8,2685.8" stroke="#FA7070"/>
<path d="M205.0,3540.5 L207.0,3540.5 L209.0,3540.5 L211.0,3540.5 L213.0,3540.5 L215.0,3540.5 L217.0,3540.5 L219.0,3540.5 L221.0,3540.5 L223.0,3540.5 L225.0,3540.5 L227.0,3540.5 L229.0,3540.5 L231.0,3540.5 L233.0,3540.5 L235.0,3540.5 L237.0,3540.5 L239.0,3540.5 L241.0,3540.5 L243.0,3540.5 L245.0,3540.5 L247.0,3540.5 L249.0,3540.5 L251.0,3540.5 L253.0,3540.5 L255.0,3540.5 L257.0,3540.5 L259.0,3540.5 L261.0,3540.5 L263.0,3540.5 L265.0,3540.5 L267.0,3540.5 L269.0,3540.5 L271.0,3540.5 L273.0,3540.5 L275.0,3540.5 L277.0,3540.5 L279.0,3540.5 L281.0,3540.5 L283.0,3540.5 L285.0,3540.5 L287.0,3540.5 L289.0,3540.5 L291.0,3540.5 L293.0,3540.5 L295.0,3540.5 L297.0,3540.5 L299.0,3540.5 L301.0,3540.5 L303.0,3540.5 L305.0,3540.5 L307.0,3540.5 L309.0,3540.5 L311.0,3540.5 L313.0,3540.5 L315.0,3540.5 L317.0,3540.5 L319.0,3540.5 L321.0,3540.5 L323.0,3540.5 L325.0,3540.5 L327.0,3540.5 L329.0,3540.5 L331.0,3540.5 L333.0,3540.5 L335.0,3540.5 L337.0,3540.5 L339.0,3540.5 L341.0,3540.5 L343.0,3540.5 L345.0,3540.5 L347.0,3540.5 L349.0,3540.5 L351.0,3540.5 L353.0,3540.5 L355.0,3540.5 L357.0,3540.5 L359.0,3540.5 L361.0,3540.5 L363.0,3540.5 L365.0,3540.5 L367.0,3540.5 L369.0,3540.5 L371.0,3540.5 L373.0,3540.5 L375.0,3540.5 L377.0,3540.5 L379.0,3540.5 L381.0,3540.5 L383.0,3540.5 L385.0,3540.5 L387.0,3540.5 L389.0,3540.5 L391.0,3540.5 L393.0,3540.5 L395.0,3540.5 L397.0,3540.5 L399.0,3540.5 L401.0,3540.5 L403.0,3540.5 L405.0,3540.5 L407.0,3540.5 L409.0,3540.5 L411.0,3540.5 L413.0,3540.5 L415.0,3540.5 L417.0,3540.5 L419.0,3540.5 L421.0,3540.5 L423.0,3540.5 L425.0,3540.5 L427.0,3540.5 L429.0,3540.5 L431.0,3540.5 L433.0,3540.5 L435.0,3540.5 L437.0,3540.5 L439.0,3540.5 L441.0,3540.5 L443.0,3540.5 L445.0,3540.5 L447.0,3540.5 L449.0,3540.5 L451.0,3540.5 L453.0,3540.5 L455.0,3540.5 L457.0,3540.5 L459.0,3540.5 L461.1,3540.5 L463.3,3540.6 L465.4,3540.6 L467.6,3540.6 L469.7,3540.6 L471.9,3540.6 L474.0,3540.6 L476.1,3540.7 L478.2,3540.7 L480.2,3540.7 L482.3,3540.7 L484.3,3540.7 L486.3,3540.7 L488.2,3540.7 L490.2,3540.7 L492.2,3540.7 L494.1,3540.7 L496.0,3540.7 L497.9,3540.7 L499.9,3540.7 L501.8,3540.6 L503.7,3540.6 L505.6,3540.6 L507.5,3540.6 L509.5,3540.6 L511.4,3540.5 L513.4,3540.5 L515.3,3540.5 L517.2,3540.4 L519.2,3540.4 L521.2,3540.4 L523.1,3540.3 L525.1,3540.3 L527.1,3540.3 L529.1,3540.2 L531.1,3540.2 L533.0,3540.1 L535.0,3540.0 L537.0,3540.0 L539.0,3539.9 L541.0,3539.8 L543.0,3539.8 L545.0,3539.7 L547.0,3539.6 L549.0,3539.5 L551.0,3539.4 L553.0,3539.3 L555.0,3539.2 L557.0,3539.1 L558.9,3539.0 L560.9,3538.9 L562.9,3538.8 L564.9,3538.6 L566.9,3538.5 L568.9,3538.4 L570.9,3538.3 L572.9,3538.1 L574.9,3538.0 L576.9,3537.8 L578.9,3537.7 L580.9,3537.5 L582.9,3537.4 L584.9,3537.2 L586.9,3537.0 L588.9,3536.9 L590.8,3536.7 L592.8,3536.5 L594.8,3536.3 L596.8,3536.1 L598.8,3535.9 L600.8,3535.7 L602.8,3535.5 L604.8,3535.3 L606.8,3535.1 L608.7,3534.9 L610.7,3534.7 L612.7,3534.5 L614.7,3534.2 L616.7,3534.0 L618.7,3533.8 L620.7,3533.5 L622.6,3533.2 L624.6,3533.0 L626.6,3532.7 L628.6,3532.4 L630.5,3532.2 L632.5,3531.9 L634.5,3531.6 L636.5,3531.3 L638.4,3531.0 L640.4,3530.6 L642.4,3530.3 L644.4,3530.0 L646.3,3529.7 L648.3,3529.3 L650.3,3529.0 L652.2,3528.6 L654.2,3528.2 L656.1,3527.8 L658.1,3527.5 L660.1,3527.1 L662.0,3526.7 L664.0,3526.3 L665.9,3525.8 L667.9,3525.4 L669.8,3525.0 L671.8,3524.6 L673.7,3524.1 L675.7,3523.7 L677.6,3523.2 L679.6,3522.7 L681.5,3522.3 L683.4,3521.8 L685.4,3521.3 L687.3,3520.8 L689.2,3520.3 L691.2,3519.8 L693.1,3519.3 L695.0,3518.8 L697.0,3518.3 L698.9,3517.7 L700.8,3517.2 L702.8,3516.7 L704.7,3516.1 L706.6,3515.6 L708.5,3515.0 L710.4,3514.5 L712.4,3513.9 L714.3,3513.4 L716.2,3512.8 L718.1,3512.2 L720.0,3511.6 L721.9,3511.0 L723.8,3510.5 L725.8,3509.9 L727.7,3509.3 L729.6,3508.7 L731.5,3508.1 L733.4,3507.5 L735.3,3506.8 L737.2,3506.2 L739.1,3505.6 L741.0,3505.0 L742.9,3504.4 L744.8,3503.7 L746.7,3503.1 L748.6,3502.5 L750.5,3501.8 L752.4,3501.2 L754.3,3500.5 L756.1,3499.9 L758.0,3499.2 L759.9,3498.5 L761.8,3497.9 L763.7,3497.2 L765.6,3496.5 L767.4,3495.9 L769.3,3495.2 L771.2,3494.5 L773.1,3493.8 L775.0,3493.1 L776.8,3492.4 L778.7,3491.7 L780.6,3491.0 L782.5,3490.3 L784.3,3489.6 L786.2,3488.9 L788.1,3488.2 L789.9,3487.5 L791.8,3486.7 L793.6,3486.0 L795.5,3485.3 L797.4,3484.6 L799.2,3483.8 L801.1,3483.1 L802.9,3482.4 L804.8,3481.6 L806.7,3480.9 L808.5,3480.1 L810.4,3479.4 L812.2,3478.6 L814.1,3477.9 L815.9,3477.1 L817.8,3476.3 L819.6,3475.6 L821.5,3474.8 L823.3,3474.1 L825.2,3473.3 L827.0,3472.5 L828.9,3471.8 L830.7,3471.0 L832.6,3470.2 L834.4,3469.4 L836.2,3468.7 L838.1,3467.9 L839.9,3467.1 L841.8,3466.3 L843.6,3465.5 L845.4,3464.7 L847.3,3464.0 L849.1,3463.2 L851.0,3462.4 L852.8,3461.6 L854.6,3460.8 L856.5,3460.0 L858.3,3459.2 L860.1,3458.4 L862.0,3457.6 L863.8,3456.8 L865.6,3456.0 L867.5,3455.2 L869.3,3454.4 L871.1,3453.6 L873.0,3452.8 L874.8,3452.0 L876.6,3451.2 L878.4,3450.3 L880.3,3449.5 L882.1,3448.7 L883.9,3447.9 L885.7,3447.1 L887.6,3446.3 L889.4,3445.4 L891.2,3444.6 L893.0,3443.8 L894.8,3442.9 L896.7,3442.1 L898.5,3441.3 L900.3,3440.4 L902.1,3439.6 L903.9,3438.8 L905.7,3437.9 L907.6,3437.1 L909.4,3436.3 L911.2,3435.4 L913.0,3434.6 L914.8,3433.7 L916.6,3432.9 L918.4,3432.0 L920.2,3431.2 L922.0,3430.3 L923.9,3429.5 L925.7,3428.6 L927.5,3427.7 L929.3,3426.9 L931.1,3426.0 L932.9,3425.2 L934.7,3424.3 L936.5,3423.4 L938.3,3422.6 L940.1,3421.7 L941.9,3420.9 L943.7,3420.0 L945.5,3419.1 L947.3,3418.3 L949.1,3417.4 L950.9,3416.5 L952.7,3415.7 L954.5,3414.8 L956.3,3413.9 L958.1,3413.1 L959.9,3412.2 L961.7,3411.3 L963.6,3410.5 L965.4,3409.6 L967.2,3408.8 L969.0,3407.9 L970.8,3407.0 L972.6,3406.2 L974.4,3405.3 L976.2,3404.5 L978.0,3403.6 L979.8,3402.7 L981.6,3401.9 L983.4,3401.0 L985.2,3400.2 L987.0,3399.3 L988.8,3398.5 L990.6,3397.6 L992.5,3396.7 L994.3,3395.9 L996.1,3395.0 L997.9,3394.2 L999.7,3393.3 L1001.5,3392.4 L1003.3,3391.6 L1005.1,3390.7 L1006.9,3389.8 L1008.7,3389.0 L1010.5,3388.1 L1012.3,3387.2 L1014.1,3386.3 L1015.9,3385.4 L1017.6,3384.6 L1019.4,3383.7 L1021.2,3382.8 L1023.0,3381.9 L1024.8,3381.0 L1026.6,3380.1 L1028.3,3379.1 L1030.1,3378.2 L1031.9,3377.3 L1033.7,3376.4 L1035.4,3375.5 L1037.2,3374.5 L1039.0,3373.6 L1040.7,3372.6 L1042.5,3371.7 L1044.2,3370.7 L1046.0,3369.8 L1047.7,3368.8 L1049.5,3367.9 L1051.2,3366.9 L1053.0,3365.9 L1054.7,3364.9 L1056.5,3364.0 L1058.2,3363.0 L1060.0,3362.0 L1061.7,3361.0 L1063.4,3360.0 L1065.2,3359.0 L1066.9,3358.0 L1068.6,3357.0 L1070.4,3356.0 L1072.1,3355.0 L1073.8,3354.0 L1075.5,3353.0 L1077.3,3352.0 L1079.0,3351.0 L1080.7,3349.9 L1082.4,3348.9 L1084.2,3347.9 L1085.9,3346.9 L1087.6,3345.9 L1089.3,3344.9 L1091.0,3343.8 L1092.8,3342.8 L1094.5,3341.8 L1096.2,3340.8 L1097.9,3339.7 L1099.6,3338.7 L1101.3,3337.7 L1103.1,3336.7 L1104.8,3335.6 L1106.5,3334.6 L1108.2,3333.6 L1109.9,3332.5 L1111.6,3331.5 L1113.4,3330.5 L1115.1,3329.5 L1116.8,3328.4 L1118.5,3327.4 L1120.2,3326.4 L1121.9,3325.3 L1123.6,3324.3 L1125.3,3323.2 L1127.0,3322.2 L1128.8,3321.2 L1130.5,3320.1 L1132.2,3319.1 L1133.9,3318.1 L1135.6,3317.0 L1137.3,3316.0 L1139.0,3314.9 L1140.7,3313.9 L1142.4,3312.8 L1144.1,3311.8 L1145.8,3310.8 L1147.5,3309.7 L1149.2,3308.7 L1150.9,3307.6 L1152.6,3306.6 L1154.3,3305.5 L1156.0,3304.5 L1157.8,3303.4 L1159.5,3302.4 L1161.2,3301.3 L1162.9,3300.3 L1164.6,3299.2 L1166.3,3298.2 L1168.0,3297.1 L1169.7,3296.1 L1171.4,3295.0 L1173.1,3294.0 L1174.8,3292.9 L1176.5,3291.8 L1178.2,3290.8 L1179.9,3289.7 L1181.6,3288.7 L1183.3,3287.6 L1185.0,3286.6 L1186.7,3285.5 L1188.4,3284.5 L1190.1,3283.4 L1191.8,3282.4 L1193.5,3281.3 L1195.2,3280.3 L1196.9,3279.2 L1198.6,3278.2 L1200.3,3277.1 L1202.0,3276.0 L1203.7,3275.0 L1205.4,3273.9 L1207.1,3272.9 L1208.8,3271.8 L1210.5,3270.8 L1212.2,3269.7 L1213.9,3268.7 L1215.6,3267.6 L1217.3,3266.5 L1219.0,3265.5 L1220.6,3264.4 L1222.3,3263.4 L1224.0,3262.3 L1225.7,3261.3 L1227.4,3260.2 L1229.1,3259.1 L1230.8,3258.1 L1232.5,3257.0 L1234.2,3256.0 L1235.9,3254.9 L1237.6,3253.8 L1239.3,3252.8 L1241.0,3251.7 L1242.7,3250.7 L1244.4,3249.6 L1246.1,3248.5 L1247.8,3247.5 L1249.5,3246.4 L1251.2,3245.3 L1252.9,3244.3 L1254.5,3243.2 L1256.2,3242.1 L1257.9,3241.1 L1259.6,3240.0 L1261.3,3238.9 L1263.0,3237.8 L1264.7,3236.8 L1266.4,3235.7 L1268.1,3234.6 L1269.7,3233.6 L1271.4,3232.5 L1273.1,3231.4 L1274.8,3230.3 L1276.5,3229.3 L1278.2,3228.2 L1279.9,3227.1 L1281.6,3226.0 L1283.2,3225.0 L1284.9,3223.9 L1286.6,3222.8 L1288.3,3221.7 L1290.0,3220.6 L1291.7,3219.6 L1293.3,3218.5 L1295.0,3217.4 L1296.7,3216.3 L1298.4,3215.2 L1300.1,3214.2 L1301.8,3213.1 L1303.4,3212.0 L1305.1,3210.9 L1306.8,3209.8 L1308.5,3208.7 L1310.2,3207.7 L1311.8,3206.6 L1313.5,3205.5 L1315.2,3204.4 L1316.9,3203.3 L1318.6,3202.2 L1320.2,3201.1 L1321.9,3200.1 L1323.6,3199.0 L1325.3,3197.9 L1327.0,3196.8 L1328.6,3195.7 L1330.3,3194.6 L1332.0,3193.5 L1333.7,3192.4 L1335.3,3191.4 L1337.0,3190.3 L1338.7,3189.2 L1340.4,3188.1 L1342.1,3187.0 L1343.7,3185.9 L1345.4,3184.8 L1347.1,3183.7 L1348.8,3182.6 L1350.4,3181.5 L1352.1,3180.4 L1353.8,3179.4 L1355.5,3178.3 L1357.1,3177.2 L1358.8,3176.1 L1360.5,3175.0 L1362.2,3173.9 L1363.8,3172.8 L1365.5,3171.7 L1367.2,3170.6 L1368.8,3169.5 L1370.5,3168.4 L1372.2,3167.3 L1373.9,3166.2 L1375.5,3165.1 L1377.2,3164.0 L1378.9,3162.9 L1380.5,3161.8 L1382.2,3160.7 L1383.9,3159.6 L1385.5,3158.5 L1387.2,3157.4 L1388.9,3156.3 L1390.5,3155.2 L1392.2,3154.1 L1393.9,3152.9 L1395.5,3151.8 L1397.2,3150.7 L1398.9,3149.6 L1400.5,3148.5 L1402.2,3147.4 L1403.8,3146.3 L1405.5,3145.2 L1407.1,3144.0 L1408.8,3142.9 L1410.5,3141.8 L1412.1,3140.7 L1413.8,3139.6 L1415.4,3138.4 L1417.1,3137.3 L1418.7,3136.2 L1420.4,3135.1 L1422.0,3133.9 L1423.7,3132.8 L1425.3,3131.7 L1427.0,3130.5 L1428.6,3129.4 L1430.3,3128.3 L1431.9,3127.2 L1433.6,3126.0 L1435.2,3124.9 L1436.9,3123.8 L1438.5,3122.6 L1440.2,3121.5 L1441.8,3120.4 L1443.5,3119.2 L1445.1,3118.1 L1446.8,3117.0 L1448.4,3115.8 L1450.1,3114.7 L1451.7,3113.6 L1453.4,3112.4 L1455.0,3111.3 L1456.7,3110.2 L1458.3,3109.0 L1460.0,3107.9 L1461.6,3106.8 L1463.3,3105.6 L1464.9,3104.5 L1466.6,3103.4 L1468.2,3102.2 L1469.9,3101.1 L1471.5,3100.0 L1473.2,3098.8 L1474.8,3097.7 L1476.5,3096.6 L1478.1,3095.4 L1479.8,3094.3 L1481.4,3093.2 L1483.1,3092.1 L1484.7,3090.9 L1486.4,3089.8 L1488.0,3088.7 L1489.7,3087.5 L1491.3,3086.4 L1492.9,3085.3 L1494.6,3084.1 L1496.2,3083.0 L1497.9,3081.9 L1499.6,3080.7 L1501.2,3079.6 L1502.9,3078.5 L1504.5,3077.4 L1506.2,3076.2 L1507.8,3075.1 L1509.5,3074.0 L1511.1,3072.8 L1512.8,3071.7 L1514.4,3070.6 L1516.1,3069.5 L1517.7,3068.3 L1519.4,3067.2 L1521.0,3066.1 L1522.7,3064.9 L1524.3,3063.8 L1526.0,3062.7 L1527.6,3061.6 L1529.3,3060.4 L1530.9,3059.3 L1532.6,3058.2 L1534.2,3057.1 L1535.9,3055.9 L1537.5,3054.8 L1539.2,3053.7 L1540.8,3052.6 L1542.5,3051.4 L1544.2,3050.3 L1545.8,3049.2 L1547.5,3048.1 L1549.1,3046.9 L1550.8,3045.8 L1552.4,3044.7 L1554.1,3043.6 L1555.7,3042.4 L1557.4,3041.3 L1559.0,3040.2 L1560.7,3039.1 L1562.4,3037.9 L1564.0,3036.8 L1565.7,3035.7 L1567.3,3034.6 L1569.0,3033.5 L1570.6,3032.3 L1572.3,3031.2 L1573.9,3030.1 L1575.6,3029.0 L1577.3,3027.9 L1578.9,3026.7 L1580.6,3025.6 L1582.2,3024.5 L1583.9,3023.4 L1585.5,3022.3 L1587.2,3021.1 L1588.9,3020.0 L1590.5,3018.9 L1592.2,3017.8 L1593.8,3016.7 L1595.5,3015.6 L1597.2,3014.4 L1598.8,3013.3 L1600.5,3012.2 L1602.1,3011.1 L1603.8,3010.0 L1605.5,3008.9 L1607.1,3007.7 L1608.8,3006.6 L1610.4,3005.5 L1612.1,3004.4 L1613.8,3003.3 L1615.4,3002.2 L1617.1,3001.1 L1618.7,2999.9 L1620.4,2998.8 L1622.1,2997.7 L1623.7,2996.6 L1625.4,2995.5 L1627.1,2994.4 L1628.7,2993.3 L1630.4,2992.2 L1632.0,2991.1 L1633.7,2989.9 L1635.4,2988.8 L1637.0,2987.7 L1638.7,2986.6 L1640.4,2985.5 L1642.0,2984.4 L1643.7,2983.3 L1645.4,2982.2 L1647.0,2981.1 L1648.7,2980.0 L1650.4,2978.9 L1652.0,2977.7 L1653.7,2976.6 L1655.3,2975.5 L1657.0,2974.4 L1658.7,2973.3 L1660.3,2972.2 L1662.0,2971.1 L1663.7,2970.0 L1665.3,2968.9 L1667.0,2967.8 L1668.7,2966.7 L1670.3,2965.6 L1672.0,2964.5 L1673.7,2963.4 L1675.3,2962.2 L1677.0,2961.1 L1678.7,2960.0 L1680.3,2958.9 L1682.0,2957.8 L1683.7,2956.7 L1685.3,2955.6 L1687.0,2954.5 L1688.7,2953.4 L1690.3,2952.3 L1692.0,2951.2 L1693.7,2950.1 L1695.3,2949.0 L1697.0,2947.8 L1698.6,2946.7 L1700.3,2945.6 L1702.0,2944.5 L1703.6,2943.4 L1705.3,2942.3 L1707.0,2941.2 L1708.6,2940.1 L1710.3,2939.0 L1712.0,2937.8 L1713.6,2936.7 L1715.3,2935.6 L1716.9,2934.5 L1718.6,2933.4 L1720.3,2932.3 L1721.9,2931.2 L1723.6,2930.1 L1725.2,2928.9 L1726.9,2927.8 L1728.6,2926.7 L1730.2,2925.6 L1731.9,2924.5 L1733.5,2923.4 L1735.2,2922.3 L1736.9,2921.1 L1738.5,2920.0 L1740.2,2918.9 L1741.9,2917.8 L1743.5,2916.7 L1745.2,2915.6 L1746.8,2914.5 L1748.5,2913.3 L1750.2,2912.2 L1751.8,2911.1 L1753.5,2910.0 L1755.1,2908.9 L1756.8,2907.8 L1758.5,2906.7 L1760.1,2905.5 L1761.8,2904.4 L1763.4,2903.3 L1765.1,2902.2 L1766.8,2901.1 L1768.4,2900.0 L1770.1,2898.9 L1771.8,2897.8 L1773.4,2896.6 L1775.1,2895.5 L1776.7,2894.4 L1778.4,2893.3 L1780.1,2892.2 L1781.7,2891.1 L1783.4,2890.0 L1785.1,2888.9 L1786.7,2887.8 L1788.4,2886.7 L1790.1,2885.5 L1791.7,2884.4 L1793.4,2883.3 L1795.1,2882.2 L1796.7,2881.1 L1798.4,2880.0 L1800.0,2878.9 L1801.7,2877.8 L1803.4,2876.7 L1805.0,2875.6 L1806.7,2874.5 L1808.4,2873.4 L1810.0,2872.2 L1811.7,2871.1 L1813.4,2870.0 L1815.0,2868.9 L1816.7,2867.8 L1818.4,2866.7 L1820.0,2865.6 L1821.7,2864.5 L1823.4,2863.4 L1825.0,2862.3 L1826.7,2861.2 L1828.4,2860.1 L1830.0,2859.0 L1831.7,2857.9 L1833.4,2856.8 L1835.0,2855.6 L1836.7,2854.5 L1838.4,2853.4 L1840.0,2852.3 L1841.7,2851.2 L1843.4,2850.1 L1845.0,2849.0 L1846.7,2847.9 L1848.4,2846.8 L1850.0,2845.7 L1851.7,2844.6 L1853.4,2843.5 L1855.0,2842.4 L1856.7,2841.3 L1858.4,2840.2 L1860.0,2839.1 L1861.7,2838.0 L1863.4,2836.9 L1865.0,2835.8 L1866.7,2834.7 L1868.4,2833.5 L1870.0,2832.4 L1871.7,2831.3 L1873.4,2830.2 L1875.0,2829.1 L1876.7,2828.0 L1878.4,2826.9 L1880.0,2825.8 L1881.7,2824.7 L1883.4,2823.6 L1885.0,2822.5 L1886.7,2821.4 L1888.4,2820.3 L1890.0,2819.2 L1891.7,2818.1 L1893.4,2817.0 L1895.0,2815.9 L1896.7,2814.8 L1898.4,2813.7 L1900.0,2812.5 L1901.7,2811.4 L1903.4,2810.3 L1905.0,2809.2 L1906.7,2808.1 L1908.4,2807.0 L1910.0,2805.9 L1911.7,2804.8 L1913.4,2803.7 L1915.0,2802.6 L1916.7,2801.5 L1918.4,2800.4 L1920.0,2799.3 L1921.7,2798.2 L1923.4,2797.1 L1925.0,2796.0 L1926.7,2794.8 L1928.4,2793.7 L1930.0,2792.6 L1931.7,2791.5 L1933.4,2790.4 L1935.0,2789.3 L1936.7,2788.2 L1938.4,2787.1 L1940.0,2786.0 L1941.7,2784.9 L1943.3,2783.8 L1945.0,2782.7 L1946.7,2781.5 L1948.3,2780.4 L1950.0,2779.3 L1951.7,2778.2 L1953.3,2777.1 L1955.0,2776.0 L1956.7,2774.9 L1958.3,2773.8 L1960.0,2772.7 L1961.6,2771.6 L1963.3,2770.4 L1965.0,2769.3 L1966.6,2768.2 L1968.3,2767.1 L1970.0,2766.0 L1971.6,2764.9 L1973.3,2763.8 L1975.0,2762.7 L1976.6,2761.6 L1978.3,2760.5 L1979.9,2759.3 L1981.6,2758.2 L1983.3,2757.1 L1984.9,2756.0 L1986.6,2754.9 L1988.3,2753.8 L1989.9,2752.7 L1991.6,2751.6 L1993.3,2750.5 L1994.9,2749.4 L1996.6,2748.3 L1998.3,2747.1 L1999.9,2746.0 L2001.6,2744.9 L2003.3,2743.8 L2004.9,2742.7 L2006.6,2741.6 L2008.3,2740.5 L2009.9,2739.4 L2011.6,2738.3 L2013.3,2737.2 L2014.9,2736.1 L2016.6,2735.0 L2018.3,2733.9 L2019.9,2732.8 L2021.6,2731.7 L2023.3,2730.6 L2024.9,2729.5 L2026.6,2728.4 L2028.3,2727.3 L2029.9,2726.2 L2031.6,2725.0 L2033.3,2723.9 L2034.9,2722.8 L2036.6,2721.7 L2038.3,2720.6 L2039.9,2719.5 L2041.6,2718.4 L2043.3,2717.3 L2044.9,2716.2 L2046.6,2715.1 L2048.2,2714.0 L2049.9,2712.9 L2051.6,2711.8 L2053.2,2710.7 L2054.9,2709.6 L2056.5,2708.5 L2058.2,2707.4 L2059.8,2706.3 L2061.5,2705.2 L2063.1,2704.1 L2064.7,2703.0 L2066.4,2701.9 L2068.0,2700.8 L2069.6,2699.7 L2071.2,2698.6 L2072.8,2697.6 L2074.4,2696.5 L2076.0,2695.4 L2077.6,2694.3 L2079.2,2693.3 L2080.8,2692.2 L2082.4,2691.1 L2084.0,2690.1 L2085.5,2689.0 L2087.1,2687.9 L2088.7,2686.8 L2090.3,2685.7 L2092.0,2684.6 L2093.6,2683.5 L2095.3,2682.4 L2096.9,2681.3 L2098.6,2680.1 L2100.3,2679.0 L2102.0,2677.8 L2103.8,2676.6 L2105.5,2675.4 L2107.3,2674.2 L2109.1,2672.9 L2110.9,2671.7 L2112.7,2670.5 L2114.4,2669.3 L2116.1,2668.1 L2116.8,2667.6" stroke="#F4A460"/>
</g>
<g stroke="#000" stroke-width="8" fill="none" shape-rendering="crispEdges">
<rect x="212" y="2117" width="1902" height="1533"/>
<path d="M212,3540.5h19 M212,3321.5h19 M212,3102.5h19 M212,2883.5h19 M212,2664.5h19 M212,2445.5h19 M212,2226.5h19 M212,3431.0h9 M212,3212.0h9 M212,2993.0h9 M212,2774.0h9 M212,2555.0h9 M212,2336.0h9 M285.2,3650v-19 M650.9,3650v-19 M1016.7,3650v-19 M1382.5,3650v-19 M1748.2,3650v-19 M468.0,3650v-10 M833.8,3650v-10 M1199.6,3650v-10 M1565.3,3650v-10 M1931.1,3650v-10"/>
</g>
<g font-size="67.4" text-anchor="end">
<text x="191.9" y="3560.6">0</text>
<text x="191.9" y="3341.6">5</text>
<text x="191.9" y="3122.6">10</text>
<text x="191.9" y="2903.6">15</text>
<text x="191.9" y="2684.6">20</text>
<text x="191.9" y="2465.6">25</text>
<text x="191.9" y="2246.6">30</text>
</g>
<g font-size="73.8" text-anchor="middle">
<text x="285.2" y="3727.3">300</text>
<text x="650.9" y="3727.3">400</text>
<text x="1016.7" y="3727.3">500</text>
<text x="1382.5" y="3727.3">600</text>
<text x="1748.2" y="3727.3">700</text>
<text x="2114.0" y="3727.3">800</text>
</g>
<text font-size="72.1" text-anchor="middle" x="1165.0" y="3844">Wavelength (nm)</text>
<text font-size="72.1" text-anchor="middle" transform="translate(100.5,2883.5) rotate(-90)">Transmittance (%)</text>
<text font-size="72" x="249.7" y="2217.8">(b)</text>
<g stroke-width="12" stroke-linecap="round" fill="none" shape-rendering="crispEdges">
<path d="M1502.8,3358.8H1664.8" stroke="#FB46A6"/>
<path d="M1502.8,3449.7H1664.8" stroke="#FA7070"/>
<path d="M1502.8,3540.6H1664.8" stroke="#F4A460"/>
</g>
<g font-size="72.1">
<text x="1681.8" y="3383.2">CES</text>
<text x="1681.8" y="3474.1">CES/1T-LNP</text>
<text x="1681.8" y="3565.0">CES/3T-LNP</text>
</g>
</svg>
</body></html>
